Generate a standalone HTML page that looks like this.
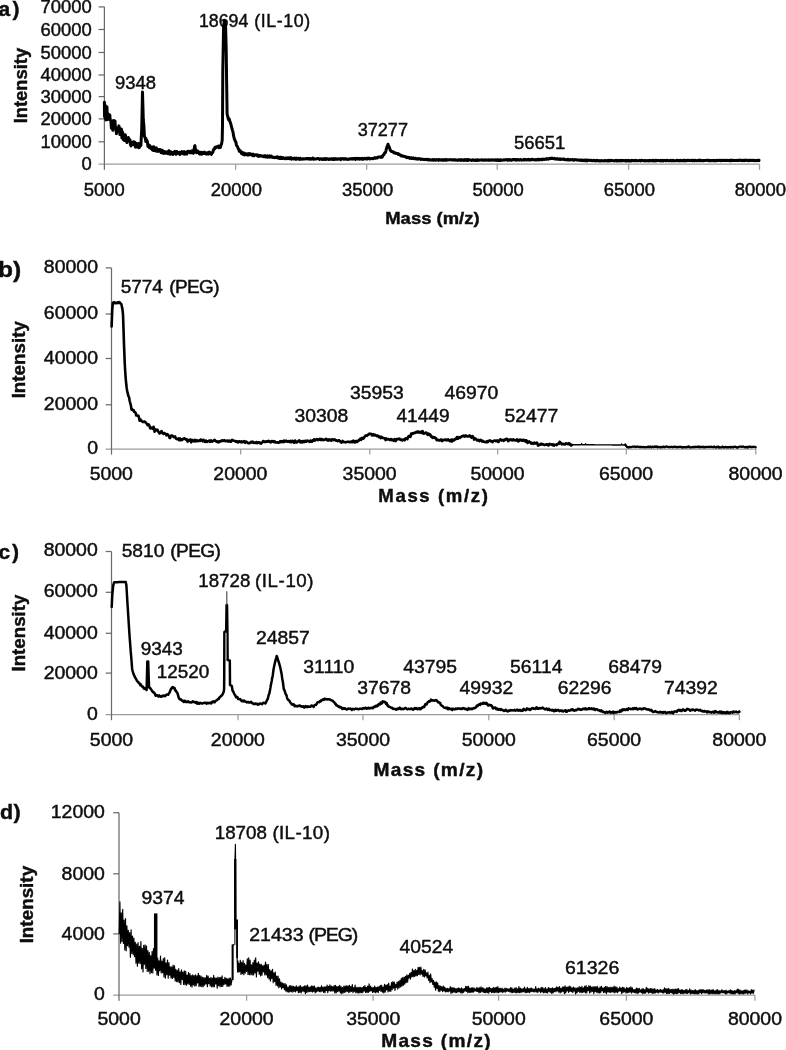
<!DOCTYPE html>
<html><head><meta charset="utf-8"><title>Mass spectra</title>
<style>html,body{margin:0;padding:0;background:#fff}body{width:786px;height:1050px;overflow:hidden}svg{display:block}</style>
</head><body>
<svg width="786" height="1050" viewBox="0 0 786 1050" font-family="'Liberation Sans', sans-serif" fill="#0a0a0a" stroke="#0a0a0a" stroke-width="0.4">
<defs><filter id="soft" x="-2%" y="-2%" width="104%" height="104%"><feGaussianBlur stdDeviation="0.5"/></filter></defs>
<g filter="url(#soft)">
<g stroke="#9c9c9c" stroke-width="1.25" fill="none">
<line x1="98.6" y1="164.2" x2="759.5" y2="164.2"/>
<line x1="235.6" y1="164.2" x2="235.6" y2="169.8"/>
<line x1="366.7" y1="164.2" x2="366.7" y2="169.8"/>
<line x1="497.2" y1="164.2" x2="497.2" y2="169.8"/>
<line x1="628.6" y1="164.2" x2="628.6" y2="169.8"/>
<line x1="759.5" y1="164.2" x2="759.5" y2="169.8"/>
</g>
<g stroke="#6a6a6a" stroke-width="1.25" fill="none">
<line x1="104.4" y1="6.9" x2="104.4" y2="169.8"/>
<line x1="98.6" y1="6.9" x2="104.4" y2="6.9"/>
<line x1="98.6" y1="29.5" x2="104.4" y2="29.5"/>
<line x1="98.6" y1="52.5" x2="104.4" y2="52.5"/>
<line x1="98.6" y1="75" x2="104.4" y2="75"/>
<line x1="98.6" y1="96.6" x2="104.4" y2="96.6"/>
<line x1="98.6" y1="118.9" x2="104.4" y2="118.9"/>
<line x1="98.6" y1="141.8" x2="104.4" y2="141.8"/>
</g>
<text transform="translate(40.4 12.9) scale(1.0365 1)" font-size="17.8">70000</text>
<text transform="translate(40.4 35.5) scale(1.0365 1)" font-size="17.8">60000</text>
<text transform="translate(40.4 58.5) scale(1.0365 1)" font-size="17.8">50000</text>
<text transform="translate(40.4 81) scale(1.0365 1)" font-size="17.8">40000</text>
<text transform="translate(40.4 102.6) scale(1.0365 1)" font-size="17.8">30000</text>
<text transform="translate(40.4 124.9) scale(1.0365 1)" font-size="17.8">20000</text>
<text transform="translate(40.4 147.8) scale(1.0365 1)" font-size="17.8">10000</text>
<text transform="translate(81.45 170.1) scale(1.0365 1)" font-size="17.8">0</text>
<text transform="translate(83.87 195.7) scale(1.0365 1)" font-size="17.8">5000</text>
<text transform="translate(210.74 195.7) scale(1.0365 1)" font-size="17.8">20000</text>
<text transform="translate(341.95 195.7) scale(1.0365 1)" font-size="17.8">35000</text>
<text transform="translate(472.43 195.7) scale(1.0365 1)" font-size="17.8">50000</text>
<text transform="translate(603.74 195.7) scale(1.0365 1)" font-size="17.8">65000</text>
<text transform="translate(734.71 195.7) scale(1.0365 1)" font-size="17.8">80000</text>
<text transform="translate(385.25 224.1) scale(1.0858 1)" font-size="17" font-weight="bold">Mass (m/z)</text>
<text transform="translate(26.7 123.34) rotate(-90) scale(1.0210 1)" font-size="18" font-weight="bold">Intensity</text>
<text transform="translate(-1.53 15.8) scale(1.0000 1)" font-size="21" font-weight="bold" letter-spacing="2.24">a)</text>
<text transform="translate(115.05 88.9) scale(1.0365 1)" font-size="17.8">9348</text>
<text transform="translate(198.97 26.7) scale(0.9988 1)" font-size="17.8">18694 <tspan dx="1.05" letter-spacing="0.6">(IL-10)</tspan></text>
<text transform="translate(357.65 135.7) scale(1.0169 1)" font-size="17.8">37277</text>
<text transform="translate(513.92 149.3) scale(1.0365 1)" font-size="17.8">56651</text>
<polyline points="104.4,102.3 104.5,116.5 104.9,104.5 105.2,118.5 105.6,106.5 106,120 106.4,117.93 106.9,106.65 107.4,118.95 107.9,119.48 108.4,115.75 108.9,114.32 109.4,114.85 109.9,115.39 110,118.23 110.4,119.7 110.9,121.19 111.4,128.18 111.9,126.14 112.4,124.53 112.9,130.3 113.4,120.62 113.9,120.75 114.4,127.5 114.9,121.01 115,121.08 115.4,127.63 115.9,127.58 116.4,133.63 116.9,130.66 117.4,129.83 117.9,130.19 118.4,127.92 118.9,125.9 119.4,128.53 119.9,134.5 120.4,129.86 120.9,132.2 121.4,129.08 121.9,137.89 122.4,131.83 122.9,133.52 123.4,139.78 123.9,136.89 124.4,140.43 124.9,139.11 125,140.1 125.4,134.83 125.9,139.08 126.4,139.21 126.9,142.56 127.4,138.86 127.9,141.14 128.4,137.43 128.9,140.35 129.4,140.31 129.9,139.51 130.4,144.62 130.5,141.66 130.9,145.94 131.4,143.5 131.9,143.8 132.4,144.22 132.9,144.66 133.4,141.69 133.9,143.66 134.4,142.75 134.9,143.91 135,142.28 135.4,147.13 135.9,143.25 136.4,145.77 136.9,143.99 137.4,147.06 137.9,146.11 138.4,143.55 138.7,147.24 138.9,147.69 139.4,147.36 139.9,145.56 140.4,143.34 140.8,143.49 140.9,145.44 141.4,135.02 141.7,129.9 141.9,120.62 142.4,96.79 142.5,92.02 142.9,105.96 143.3,119.97 143.4,121.26 143.9,125.81 144.4,136.44 144.5,135.85 144.9,137.58 145.4,138.22 145.8,141.57 145.9,138.39 146.4,140.93 146.9,140.3 147.4,141.67 147.9,146.43 148,145.21 148.4,144.59 148.9,145.54 149.4,147.6 149.9,145.78 150.4,147.38 150.9,148.3 151,146.97 151.4,147.86 151.9,149.14 152.4,149.98 152.9,146.94 153.4,150.51 153.9,146.77 154.4,150.17 154.9,150.63 155.4,148.01 155.9,149.42 156,151.12 156.4,147.87 156.9,150.55 157.4,151.35 157.9,150.31 158.4,151.3 158.9,149.38 159.4,149.39 159.9,150.18 160.4,149.57 160.9,150.36 161,152.79 161.4,151.36 161.9,150.52 162.4,150.33 162.9,153.1 163.4,151.19 163.9,153.37 164.4,151.64 164.9,151.74 165.4,153.27 165.9,152.76 166.4,152.23 166.9,151.72 167.4,153.52 167.9,151.84 168.4,153.84 168.9,150.74 169.4,152.17 169.9,152.58 170.4,154.25 170.9,151.77 171,153.82 171.4,153.35 171.9,153.51 172.4,153.21 172.9,154.45 173.4,152.18 173.9,152.44 174.4,151.77 174.9,151.26 175.4,151.85 175.9,154.3 176.4,154.05 176.9,151.57 177.4,153.27 177.9,152.86 178.4,153.27 178.9,153.5 179.4,152.33 179.9,154.53 180,152.89 180.4,153.41 180.9,153.42 181.4,151.92 181.9,151.52 182.4,152.64 182.9,153.76 183.4,153.9 183.9,153.61 184.4,151.64 184.9,154.15 185.4,153.78 185.9,153.99 186.4,152.87 186.9,154.06 187.4,151.38 187.9,151.33 188.4,151.29 188.9,151.98 189.4,151.96 189.6,151.77 189.9,152.84 190.4,151.2 190.9,152.73 191.4,151.41 191.9,152.8 192.4,150.82 192.9,151.57 193.4,153.26 193.5,152.11 193.9,150.71 194.4,147.57 194.7,145.81 194.9,145.64 195.4,149.21 195.8,149.73 195.9,151.89 196.4,152.65 196.9,152.67 197.4,150.83 197.8,151.87 197.9,151.85 198.4,151.52 198.9,153.08 199.4,153.73 199.9,152.67 200,154.14 200.4,153.97 200.9,152.24 201.4,153.89 201.9,154.19 202.4,152.42 202.9,153.39 203.4,153.56 203.9,153.48 204.4,152.17 204.9,153.61 205.4,153.54 205.9,154.02 206.4,153.97 206.9,152.76 207.4,153.76 207.9,154.13 208.4,154.19 208.9,152.35 209.4,152.01 209.9,153.58 210.4,152.49 210.9,153.36 211.4,154.31 211.9,152.9 212.3,152.59 212.4,152.88 212.9,152.31 213.4,149.87 213.8,149.71 213.9,148.89 214.4,149.15 214.9,148.52 215,147.2 215.4,147.15 215.9,147.51 216.4,146.67 216.9,146.71 217.4,146.86 217.9,147.12 218.4,146.17 218.9,147.74 219.4,147.28 219.9,146.56 220.3,145.99 220.4,147.46 220.9,145.12 221.4,144.3 221.5,144.12 221.9,142.02 222.2,140.12 222.4,129.93 222.5,124.94 222.8,70.1 222.9,64.54 223.4,36.91 223.6,25.98 223.9,23.89 224.3,20.76 224.4,20.96 224.9,21.28 225,21.57 225.4,25.25 225.6,27.1 225.9,38.55 226.2,49.96 226.4,64.87 226.6,80.01 226.9,100.08 227.1,113.91 227.4,115.05 227.9,117.08 228.3,119.05 228.4,119.54 228.9,118.59 229.4,119.49 229.6,121.16 229.9,121.44 230.4,122.65 230.8,124.08 230.9,124.39 231.4,126.35 231.9,128.37 232.3,129.27 232.4,130.24 232.9,131.46 233.4,134.88 233.9,137.07 234.4,139.19 234.6,139.48 234.9,140.14 235.4,141.55 235.9,142.08 236.4,145.09 236.9,145.79 237.4,146.45 237.9,147.75 238.4,149.09 238.9,149.37 239.2,150.87 239.4,151.24 239.9,150.67 240.4,150.68 240.9,152.42 241.4,153.37 241.9,152.21 242.3,153.72 242.4,153.97 242.9,154.32 243.4,152.95 243.9,153.07 244.4,154.96 244.9,153.47 245.4,153.61 245.9,154.39 246.4,154.17 246.9,154.76 247.4,153.74 247.9,155.1 248.4,153.84 248.9,154.87 249.4,153.62 249.9,154.44 250.4,153.73 250.9,154.32 251.4,154.4 251.9,155.2 252.4,154.82 252.9,154.21 253,155.86 253.4,155.73 253.9,155.85 254.4,154.78 254.9,155.11 255.4,154.9 255.9,154.81 256.4,154.73 256.9,155.59 257.4,155.04 257.9,155.21 258.3,156.39 258.4,155.78 258.9,155.33 259.4,156.15 259.9,155.53 260.4,155.99 260.9,155.63 261.4,156.04 261.9,156.25 262.4,156.13 262.9,155.95 263.4,156.61 263.9,156.77 264.4,155.71 264.9,155.67 265.4,155.67 265.9,157.07 266.4,157.04 266.9,155.96 267.4,157.15 267.9,155.99 268.4,156.49 268.9,156.51 269.4,157.2 269.9,155.87 270.4,156.33 270.9,156.81 271.4,156.02 271.6,156.29 271.9,156.68 272.4,157.38 272.9,157.26 273.4,157.43 273.9,157.38 274.4,157.36 274.9,157.64 275.4,157.45 275.9,157.59 276.4,156.99 276.9,156.85 277.4,157.8 277.9,156.97 278.4,158.17 278.9,157.75 279.4,157.41 279.9,158.38 280.4,157.27 280.5,157.82 280.9,157.21 281.4,158.55 281.9,157.99 282.4,158.36 282.9,157.61 283.4,158.41 283.9,158.29 284.4,158.23 284.9,158.71 285.4,157.98 285.9,157.98 286.4,158.41 286.9,158.65 287.4,157.95 287.9,158.46 288.4,157.82 288.9,158.35 289.4,158.69 289.9,157.7 290.4,158.7 290.9,157.7 291.4,159.1 291.9,158.42 292.4,158.37 292.9,158.85 293.4,158.6 293.9,158.93 294.4,158.04 294.9,158.76 295.4,158.79 295.9,159.35 296.4,158.12 296.9,158.74 297.4,159.02 297.9,158.94 298.3,158.3 298.4,159.03 298.9,158.49 299.4,158.43 299.9,159.37 300.4,158.4 300.9,158.73 301.4,159.13 301.9,159.05 302.4,158.81 302.9,159.15 303.4,158.65 303.9,158.85 304.4,159.1 304.9,158.89 305.4,158.82 305.9,158.48 306,158.68 306.4,158.47 306.9,158.95 307.4,158.47 307.9,158.59 308.4,159 308.9,158.67 309.4,158.45 309.9,159.12 310.4,158.53 310.9,159.17 311.4,159.1 311.9,158.65 312.4,159.02 312.9,158.12 313.4,158.61 313.9,159.24 314.4,158.88 314.9,158.86 315.4,159.01 315.9,159.04 316.4,158.93 316.9,158.72 317.4,158.42 317.9,158.58 318.4,158.59 318.9,158.78 319.4,159.53 319.9,158.7 320.4,158.83 320.9,158.74 321.4,159.03 321.9,159.51 322.4,159.44 322.9,158.79 323.4,158.66 323.9,159.47 324.4,158.98 324.9,159.23 325.4,158.46 325.9,159.48 326.4,158.79 326.9,159.03 327.4,158.66 327.9,158.96 328.4,159.48 328.9,159.49 329.4,159.05 329.9,159.43 330,159.05 330.4,158.94 330.9,159.15 331.4,158.72 331.9,158.86 332.4,159.34 332.9,159.41 333.4,158.53 333.9,159.36 334.4,159.46 334.9,159 335.4,158.53 335.9,159.28 336.4,158.75 336.9,159.23 337.4,158.9 337.9,159.21 338.4,158.75 338.9,159.01 339.4,159.07 339.9,159.19 340.4,158.68 340.9,159.58 341.4,158.77 341.9,158.79 342.4,158.73 342.9,158.5 343.4,158.92 343.9,159.33 344.4,159.25 344.9,158.64 345.4,158.57 345.9,158.78 346.4,159.3 346.9,158.97 347.4,159.48 347.9,159.16 348.4,159.12 348.9,159.28 349.4,159.26 349.9,158.79 350.4,158.69 350.9,158.89 351.4,158.95 351.9,158.55 352.4,158.88 352.9,159.11 353.4,158.53 353.9,158.53 354.4,158.57 354.9,158.69 355.4,159.45 355.9,158.4 356.4,158.57 356.9,158.55 357.4,158.89 357.9,158.38 358.4,158.86 358.9,158.53 359.4,158.65 359.9,159.22 360,158.55 360.4,159.01 360.9,158.76 361.4,158.75 361.9,159.16 362.4,158.42 362.9,159.23 363.4,159.17 363.9,158.91 364.4,158.22 364.9,158.86 365.4,158.77 365.9,158.93 366.4,158.31 366.9,159.07 367.4,158.98 367.9,158.14 368.4,158.33 368.9,158.01 369.4,158.83 369.9,158.89 370.4,158.95 370.9,158.53 371.4,158.56 371.9,158.55 372.4,158.42 372.9,158.79 373.4,158.41 373.9,158.04 374.4,158.13 374.9,157.54 375.4,158.17 375.9,158.05 376.4,157.68 376.9,158.03 377.4,157.84 377.9,157.33 378.4,156.98 378.9,156.94 379.4,156.9 379.9,156.94 380.4,156.99 380.9,157.38 381.4,156.64 381.9,157.17 382.3,156.88 382.4,156.91 382.9,155.75 383.4,154.65 383.9,154.71 384.4,153.47 384.9,152.66 385.4,152.59 385.9,150.81 386.4,148.69 386.9,147.08 387.2,146.72 387.4,145.65 387.9,145.01 388,144.24 388.4,145.78 388.9,146.21 389,146.82 389.4,147.32 389.9,149.02 390.4,150.51 390.7,150.51 390.9,150.78 391.4,151.49 391.9,151.58 392.4,151.55 392.9,152.09 393.4,152.17 393.9,152.79 394,152.31 394.4,152.87 394.9,152.92 395.4,153.17 395.9,153 396.4,153.48 396.9,153.62 397.4,153.5 397.9,153.42 398.4,154.53 398.9,154.56 399.4,154.35 399.9,155.08 400.4,154.93 400.9,155.36 401.4,155.96 401.9,155.85 402.4,155.96 402.7,156.13 402.9,155.97 403.4,156.21 403.9,156.38 404.4,156.41 404.9,156.43 405.4,156.91 405.9,156.8 406.4,157.39 406.9,157.67 407.4,157.21 407.9,157.59 408.4,157.65 408.9,157.38 409.4,157.55 409.9,158.34 410.4,158.03 410.9,158.37 411.4,157.77 411.9,158.29 412.4,158.58 412.9,158.63 413.4,157.91 413.9,158.42 414.4,158.34 414.9,158.74 415.4,158.18 415.9,158.4 416.4,158.93 416.9,158.68 417.4,158.72 417.9,159.22 418.4,158.7 418.8,158.49 418.9,158.81 419.4,158.65 419.9,158.63 420.4,159.1 420.9,159.49 421.4,159.2 421.9,159.31 422.4,159.07 422.9,159.33 423.4,159.53 423.9,159.43 424.4,159.67 424.9,159.49 425.4,159.22 425.9,159.61 426.4,159.57 426.9,159.33 427.4,159.77 427.9,159.99 428.4,159.44 428.9,159.84 429.4,160.05 429.9,159.81 430,159.7 430.4,159.79 430.9,159.94 431.4,160.07 431.9,159.96 432.4,159.56 432.9,160.19 433.4,160.28 433.9,159.57 434.4,159.7 434.9,159.63 435.4,160.22 435.9,160.28 436.4,159.53 436.9,159.78 437.4,159.66 437.9,159.9 438.4,160.29 438.9,159.56 439.4,159.65 439.9,159.92 440.4,159.96 440.9,160.15 441.4,159.88 441.9,159.63 442.4,159.81 442.9,160.36 443.4,160.16 443.9,159.62 444.4,160.21 444.9,159.79 445.4,160.19 445.9,159.53 446.4,160.27 446.9,159.67 447.4,159.92 447.9,160.1 448.4,159.97 448.9,159.68 449.4,159.65 449.9,159.78 450.4,159.58 450.9,159.73 451.4,159.65 451.9,159.94 452.4,159.85 452.9,160.05 453.4,159.79 453.9,159.58 454.4,159.84 454.9,160.2 455.4,159.78 455.9,159.9 456.4,160.21 456.9,159.91 457.4,160.32 457.9,160.35 458.4,159.83 458.9,160.2 459.4,159.79 459.9,159.69 460,159.95 460.4,160.09 460.9,160.37 461.4,159.7 461.9,160.18 462.4,159.99 462.9,159.7 463.4,160.41 463.9,160.18 464.4,159.7 464.9,160.36 465.4,159.68 465.9,159.67 466.4,159.87 466.9,160.39 467.4,159.62 467.9,160.37 468.4,160.12 468.9,159.66 469.4,160.08 469.9,159.99 470.4,160.08 470.9,160.23 471.4,160.18 471.9,160.45 472.4,159.74 472.9,160.29 473.4,159.96 473.9,160.27 474.4,160.36 474.9,160.45 475.4,159.84 475.9,160 476.4,160.41 476.9,160.41 477.4,159.94 477.9,160.41 478.4,159.97 478.9,159.94 479.4,160.26 479.9,160.03 480.4,160.01 480.9,159.96 481.4,160 481.9,159.76 482.4,159.69 482.9,160.27 483.4,160.11 483.9,160.2 484.4,160.31 484.9,159.84 485.4,159.84 485.9,159.88 486.4,159.9 486.9,160.28 487.4,159.96 487.9,159.92 488.4,160.18 488.9,159.81 489.4,159.75 489.9,160.24 490.4,160.29 490.9,159.91 491.4,160.19 491.9,159.7 492.4,160 492.9,160.15 493.4,159.88 493.9,159.96 494.4,160.18 494.9,160.16 495.4,159.8 495.9,160.26 496.4,159.75 496.9,160.48 497.4,159.85 497.9,159.89 498.4,159.85 498.9,160.5 499.4,159.92 499.9,160.19 500,160.5 500.4,160.46 500.9,159.71 501.4,160.1 501.9,160.15 502.4,160.23 502.9,159.92 503.4,159.91 503.9,159.64 504.4,159.66 504.9,160.07 505.4,159.67 505.9,159.77 506.4,159.87 506.9,159.65 507.4,159.61 507.9,160.33 508.4,159.92 508.9,159.73 509.4,160.13 509.9,159.55 510.4,159.74 510.9,160.31 511.4,160.25 511.9,160.03 512.4,159.59 512.9,159.76 513.4,159.52 513.9,159.67 514.4,159.5 514.9,159.58 515.4,159.98 515.9,159.54 516.4,159.58 516.9,160.17 517.4,159.71 517.9,159.7 518.4,159.49 518.9,160.05 519.4,159.95 519.9,159.84 520,159.89 520.4,159.48 520.9,159.6 521.4,159.85 521.9,160.14 522.4,160.03 522.9,159.88 523.4,159.78 523.9,159.37 524.4,160.07 524.9,159.41 525.4,159.45 525.9,159.89 526.4,159.98 526.9,159.96 527.4,159.69 527.9,159.46 528.4,159.35 528.9,159.99 529.4,160.08 529.9,159.5 530.4,159.99 530.9,159.61 531.4,159.54 531.9,159.69 532.4,159.29 532.9,159.63 533.4,159.43 533.9,159.83 534.4,159.66 534.9,159.94 535.4,159.96 535.9,159.5 536.4,159.46 536.9,159.98 537.4,159.63 537.9,159.3 538.4,159.26 538.9,160 539.4,159.67 539.9,159.25 540,159.61 540.4,159.57 540.9,159.47 541.4,159.84 541.9,159.79 542.4,159.11 542.9,159.09 543.4,159.24 543.9,159.54 544.4,159.33 544.9,159.37 545.4,159.21 545.9,158.88 546,159.35 546.4,158.68 546.9,159.15 547.4,158.7 547.9,158.86 548.4,159.19 548.9,158.79 549.4,158.36 549.9,158.59 550.4,158.71 550.9,158.19 551.4,158.28 551.9,158.04 552,158.43 552.4,158.35 552.9,158.49 553.4,158.38 553.9,158.71 554.4,158.39 554.9,159 555.4,159.09 555.9,158.78 556.4,158.81 556.9,159.17 557.4,158.78 557.9,159.22 558,158.84 558.4,159.19 558.9,158.93 559.4,159.17 559.9,159.44 560.4,158.81 560.9,159.42 561.4,159.24 561.9,159.15 562.4,159.16 562.9,158.97 563.4,159.15 563.9,159.46 564.4,159.09 564.9,159.56 565.4,159.81 565.9,159.86 566.4,159.82 566.9,159.79 567.4,159.34 567.9,159.97 568.4,159.42 568.9,159.96 569.4,159.99 569.9,159.83 570.4,159.79 570.9,159.57 571.4,159.84 571.9,159.68 572.4,159.58 572.9,159.6 573.4,160.13 573.9,160.25 574.4,159.68 574.9,159.6 575.4,159.81 575.9,159.74 576.4,159.8 576.9,160.12 577.4,160.02 577.9,160.04 578.4,159.9 578.9,160.26 579.4,160 579.9,160.11 580.4,160.18 580.9,160.53 581.4,160.06 581.9,160.43 582.4,160.15 582.9,160.61 583.4,160.25 583.9,160.36 584.4,160.66 584.9,160.52 585,160.1 585.4,160.14 585.9,160.78 586.4,160.08 586.9,160.29 587.4,160.79 587.9,160.1 588.4,160.22 588.9,160.27 589.4,160.18 589.9,160.48 590.4,160.58 590.9,160.38 591.4,160.24 591.9,160.77 592.4,160.77 592.9,160.6 593.4,160.3 593.9,160.61 594.4,160.68 594.9,160.55 595.4,160.88 595.9,160.54 596.4,160.64 596.9,160.35 597.4,160.69 597.9,160.85 598.4,160.84 598.9,160.5 599.4,161.05 599.9,160.86 600,160.64 600.4,160.64 600.9,160.9 601.4,160.46 601.9,160.8 602.4,160.86 602.9,160.71 603.4,160.97 603.9,160.67 604.4,160.67 604.9,160.53 605.4,160.99 605.9,160.55 606.4,160.83 606.9,160.62 607.4,161 607.9,161.01 608.4,160.34 608.9,161.04 609.4,160.76 609.9,160.37 610.4,160.68 610.9,160.35 611.4,160.71 611.9,160.45 612.4,160.58 612.9,160.53 613.4,160.75 613.9,160.9 614.4,160.99 614.9,160.55 615.4,160.72 615.9,160.31 616.4,160.58 616.9,161 617.4,160.39 617.9,160.93 618.4,160.77 618.9,160.51 619.4,160.86 619.9,160.51 620.4,160.94 620.9,160.36 621.4,160.38 621.9,160.83 622.4,160.62 622.9,160.4 623.4,160.66 623.9,160.51 624.4,160.69 624.9,160.82 625.4,160.9 625.9,160.33 626.4,160.71 626.9,160.99 627.4,160.62 627.9,160.84 628.4,160.36 628.9,160.91 629.4,160.7 629.9,160.92 630.4,160.84 630.9,160.9 631.4,160.32 631.9,160.79 632.4,160.42 632.9,160.47 633.4,160.51 633.9,160.7 634.4,160.72 634.9,160.93 635.4,160.29 635.9,160.41 636.4,160.53 636.9,160.85 637.4,160.66 637.9,160.63 638.4,160.81 638.9,160.73 639.4,160.47 639.9,160.33 640.4,160.59 640.9,160.88 641.4,160.69 641.9,160.3 642.4,160.57 642.9,160.53 643.4,160.67 643.9,160.67 644.4,160.93 644.9,160.5 645.4,160.55 645.9,160.69 646.4,160.88 646.9,160.75 647.4,160.58 647.9,160.82 648.4,160.59 648.9,160.92 649.4,160.45 649.9,160.34 650,160.83 650.4,160.46 650.9,160.84 651.4,160.67 651.9,160.6 652.4,160.31 652.9,160.79 653.4,160.29 653.9,160.91 654.4,160.85 654.9,160.45 655.4,160.33 655.9,160.85 656.4,160.57 656.9,160.33 657.4,160.58 657.9,160.41 658.4,160.52 658.9,160.68 659.4,160.87 659.9,160.79 660.4,160.35 660.9,160.56 661.4,160.57 661.9,160.91 662.4,160.29 662.9,160.58 663.4,160.86 663.9,160.5 664.4,160.41 664.9,160.61 665.4,160.45 665.9,160.86 666.4,160.29 666.9,160.37 667.4,160.28 667.9,160.71 668.4,160.42 668.9,160.83 669.4,160.83 669.9,160.85 670.4,160.39 670.9,160.22 671.4,160.48 671.9,160.87 672.4,160.73 672.9,160.26 673.4,160.69 673.9,160.83 674.4,160.87 674.9,160.7 675.4,160.79 675.9,160.78 676.4,160.45 676.9,160.28 677.4,160.7 677.9,160.3 678.4,160.47 678.9,160.87 679.4,160.58 679.9,160.55 680.4,160.84 680.9,160.39 681.4,160.87 681.9,160.81 682.4,160.44 682.9,160.42 683.4,160.29 683.9,160.81 684.4,160.32 684.9,160.2 685.4,160.79 685.9,160.59 686.4,160.64 686.9,160.68 687.4,160.22 687.9,160.25 688.4,160.52 688.9,160.23 689.4,160.52 689.9,160.68 690.4,160.62 690.9,160.59 691.4,160.22 691.9,160.34 692.4,160.78 692.9,160.27 693.4,160.53 693.9,160.22 694.4,160.8 694.9,160.3 695.4,160.45 695.9,160.54 696.4,160.65 696.9,160.79 697.4,160.66 697.9,160.4 698.4,160.23 698.9,160.64 699.4,160.81 699.9,160.19 700,160.68 700.4,160.29 700.9,160.47 701.4,160.51 701.9,160.57 702.4,160.81 702.9,160.62 703.4,160.42 703.9,160.63 704.4,160.47 704.9,160.44 705.4,160.4 705.9,160.49 706.4,160.35 706.9,160.32 707.4,160.26 707.9,160.45 708.4,160.35 708.9,160.7 709.4,160.71 709.9,160.38 710.4,160.56 710.9,160.74 711.4,160.39 711.9,160.51 712.4,160.44 712.9,160.57 713.4,160.77 713.9,160.25 714.4,160.77 714.9,160.58 715.4,160.66 715.9,160.56 716.4,160.71 716.9,160.36 717.4,160.6 717.9,160.32 718.4,160.47 718.9,160.58 719.4,160.28 719.9,160.19 720.4,160.65 720.9,160.66 721.4,160.57 721.9,160.35 722.4,160.56 722.9,160.2 723.4,160.56 723.9,160.51 724.4,160.53 724.9,160.42 725.4,160.28 725.9,160.6 726.4,160.43 726.9,160.61 727.4,160.37 727.9,160.19 728.4,160.48 728.9,160.53 729.4,160.71 729.9,160.69 730.4,160.17 730.9,160.62 731.4,160.3 731.9,160.57 732.4,160.37 732.9,160.33 733.4,160.44 733.9,160.46 734.4,160.56 734.9,160.53 735.4,160.55 735.9,160.37 736.4,160.55 736.9,160.34 737.4,160.5 737.9,160.41 738.4,160.47 738.9,160.14 739.4,160.43 739.9,160.26 740.4,160.36 740.9,160.17 741.4,160.53 741.9,160.67 742.4,160.34 742.9,160.18 743.4,160.5 743.9,160.2 744.4,160.66 744.9,160.19 745.4,160.34 745.9,160.42 746.4,160.19 746.9,160.31 747.4,160.28 747.9,160.55 748.4,160.71 748.9,160.33 749.4,160.59 749.9,160.2 750.4,160.46 750.9,160.37 751.4,160.28 751.9,160.61 752.4,160.56 752.9,160.19 753.4,160.28 753.9,160.6 754.4,160.71 754.9,160.47 755.4,160.63 755.9,160.7 756.4,160.55 756.9,160.49 757.4,160.23 757.9,160.32 758.4,160.48 758.9,160.66 759,160.28" fill="none" stroke="#000" stroke-width="3.0" stroke-linejoin="round" stroke-linecap="round"/>
<g stroke="#9c9c9c" stroke-width="1.25" fill="none">
<line x1="105.7" y1="449" x2="755.8" y2="449"/>
<line x1="240.7" y1="449" x2="240.7" y2="454.6"/>
<line x1="369.8" y1="449" x2="369.8" y2="454.6"/>
<line x1="497.7" y1="449" x2="497.7" y2="454.6"/>
<line x1="626.3" y1="449" x2="626.3" y2="454.6"/>
<line x1="755.8" y1="449" x2="755.8" y2="454.6"/>
</g>
<g stroke="#6a6a6a" stroke-width="1.25" fill="none">
<line x1="111.5" y1="267.9" x2="111.5" y2="454.6"/>
<line x1="105.7" y1="267.9" x2="111.5" y2="267.9"/>
<line x1="105.7" y1="314" x2="111.5" y2="314"/>
<line x1="105.7" y1="358.5" x2="111.5" y2="358.5"/>
<line x1="105.7" y1="404.8" x2="111.5" y2="404.8"/>
</g>
<text transform="translate(43.86 273.2) scale(1.1114 1)" font-size="17.5">80000</text>
<text transform="translate(43.86 319.3) scale(1.1114 1)" font-size="17.5">60000</text>
<text transform="translate(43.86 363.8) scale(1.1114 1)" font-size="17.5">40000</text>
<text transform="translate(43.86 410.1) scale(1.1114 1)" font-size="17.5">20000</text>
<text transform="translate(87.13 454.3) scale(1.1114 1)" font-size="17.5">0</text>
<text transform="translate(89.66 479.9) scale(1.1114 1)" font-size="17.5">5000</text>
<text transform="translate(213.34 479.9) scale(1.1114 1)" font-size="17.5">20000</text>
<text transform="translate(342.56 479.9) scale(1.1114 1)" font-size="17.5">35000</text>
<text transform="translate(470.44 479.9) scale(1.1114 1)" font-size="17.5">50000</text>
<text transform="translate(598.94 479.9) scale(1.1114 1)" font-size="17.5">65000</text>
<text transform="translate(728.52 479.9) scale(1.1114 1)" font-size="17.5">80000</text>
<text transform="translate(378.34 501.6) scale(1.0000 1)" font-size="18.6" font-weight="bold" letter-spacing="1.61">Mass (m/z)</text>
<text transform="translate(24.9 398.37) rotate(-90) scale(1.0107 1)" font-size="18.6" font-weight="bold">Intensity</text>
<text transform="translate(-1.89 277) scale(1.1151 1)" font-size="22" font-weight="bold">b)</text>
<text transform="translate(120.64 293.1) scale(1.0872 1)" font-size="17.5">5774 <tspan dx="0.88" letter-spacing="-0.54">(PEG)</tspan></text>
<text transform="translate(294.6 422.3) scale(1.1057 1)" font-size="17.5">30308</text>
<text transform="translate(349.9 399.4) scale(1.1057 1)" font-size="17.5">35953</text>
<text transform="translate(396.47 422.3) scale(1.0914 1)" font-size="17.5">41449</text>
<text transform="translate(444.45 399.4) scale(1.1057 1)" font-size="17.5">46970</text>
<text transform="translate(504.45 422.3) scale(1.1057 1)" font-size="17.5">52477</text>
<polyline points="111.6,326.45 112.1,313.16 112.2,310.39 112.6,305.86 112.9,302.8 113.1,303.09 113.6,303.21 113.8,302.6 114.1,302.23 114.6,302.77 115.1,303.21 115.6,302.88 116.1,302.89 116.6,303.24 117.1,302.56 117.6,302.31 118.1,302.93 118.6,302.86 119.1,302.13 119.6,302.21 120.1,303.03 120.6,303.56 121.1,303.78 121.6,305.12 122.1,307.92 122.4,308.95 122.6,310.95 123,314.25 123.1,316.88 123.6,331.88 123.7,335.4 124.1,347.1 124.5,356.77 124.6,360.3 125.1,369.76 125.6,376.82 126,382.01 126.1,382.48 126.6,387.19 127.1,390.55 127.6,392.94 128.1,394.69 128.3,395.92 128.6,396.42 129.1,397.34 129.6,400.43 130.1,402.61 130.6,404.25 131.1,406.53 131.3,408.43 131.6,409.67 132.1,409.29 132.6,409.98 133.1,410.3 133.6,410.17 134.1,411.86 134.6,412.09 135.1,412.16 135.6,412.85 135.9,413.52 136.1,415.42 136.6,415.52 137.1,415.31 137.6,415.82 138.1,415.62 138.6,416.02 139.1,418.08 139.6,420.7 140.1,420.74 140.5,419.47 140.6,419.67 141.1,420.26 141.6,420.69 142.1,421.41 142.6,421.49 143.1,422.04 143.6,421.93 144.1,421.73 144.6,421.46 145.1,421.81 145.6,422.36 146.1,422.9 146.6,423.53 147.1,424.05 147.6,425.22 148.1,424.73 148.6,424.39 149.1,425.03 149.6,426.29 150.1,428.08 150.6,428.43 151.1,427.56 151.6,428.2 152.1,427.84 152.6,428.15 153.1,428.93 153.6,426.8 154.1,428.97 154.6,431.73 155.1,429.94 155.6,429.43 156.1,430.19 156.6,430.45 157.1,430.02 157.6,429.87 158.1,431.27 158.6,432.07 158.8,432.6 159.1,432.63 159.6,433.47 160.1,433.2 160.6,432.21 161.1,431.71 161.6,431.04 162.1,433.06 162.6,433.42 163.1,433.15 163.6,433.84 164.1,433.13 164.6,433.15 165.1,433.64 165.6,433.74 166.1,434.64 166.6,435.47 167.1,434.9 167.6,434.21 168.1,434.88 168.6,435.52 169.1,436.12 169.6,437.87 170.1,437.95 170.6,436.61 171,436.18 171.1,435.74 171.6,435.45 172.1,435.49 172.6,435.9 173.1,436.34 173.6,437.11 174.1,437.24 174.6,436.83 175.1,436.49 175.6,437.65 176.1,438.75 176.6,438.95 177.1,439.24 177.6,439.19 178.1,438.72 178.6,438.4 179.1,440.19 179.6,439.22 180.1,438.47 180.6,440.21 181.1,439.87 181.6,439.43 182.1,440 182.6,439.27 183.1,438.87 183.6,438.83 184.1,438.29 184.6,438.52 185.1,438.92 185.6,439.45 186.1,439.88 186.6,439.06 187.1,440.03 187.6,441.6 188.1,440.96 188.6,440.17 189.1,439.79 189.6,440.4 190,440.76 190.1,439.47 190.6,439.69 191.1,442.38 191.6,440.9 192.1,439.81 192.6,441.13 193.1,440.51 193.6,441.12 194.1,440.52 194.6,439.85 195.1,441.41 195.6,441.23 196.1,440.16 196.6,440.37 197.1,440.38 197.6,441.24 198.1,440.99 198.6,440.63 199.1,440.45 199.6,440.36 200.1,440.97 200.6,439.58 201.1,439.65 201.6,440.33 202.1,440.17 202.6,441.33 203.1,441.06 203.6,439.96 204.1,441.1 204.6,441.64 205.1,441.71 205.4,441.81 205.6,440.76 206.1,440.59 206.6,441.52 207.1,441.96 207.6,441.43 208.1,441.04 208.6,441 209.1,440.73 209.6,441.62 210.1,441.88 210.6,440.55 211.1,440.34 211.6,441.16 212.1,441.65 212.6,441.28 213.1,440.71 213.6,440.78 214.1,440.35 214.6,439.77 215.1,440.86 215.6,441.22 216.1,441.04 216.6,441.78 217.1,441.91 217.6,441.39 218.1,442.04 218.6,442.32 219.1,441.24 219.6,441.28 220.1,441.61 220.6,440.92 221.1,440.78 221.6,441.09 222.1,440.2 222.6,440.2 223.1,440.94 223.6,440.83 224.1,440.24 224.6,440.28 225.1,440.98 225.6,441.19 226.1,440.71 226.6,440.95 227.1,440.92 227.6,440.55 228.1,441.65 228.6,441.45 229.1,440.66 229.6,441.44 230.1,441.49 230.6,440.9 230.9,441.17 231.1,441.77 231.6,440.74 232.1,439.95 232.6,440.5 233.1,440.41 233.6,440.51 234.1,440.64 234.6,441.18 235.1,441.18 235.6,441.13 236.1,441.72 236.6,441.38 237.1,441.29 237.6,442.35 238.1,442.46 238.6,441.5 239.1,441.36 239.6,441.27 240.1,441.44 240.6,442.24 241.1,441.8 241.6,441.36 242.1,442.23 242.6,442.13 243.1,441.76 243.6,441.56 244.1,441.15 244.6,441.4 245,442.7 245.1,442.76 245.6,441.65 246.1,441.63 246.6,441.83 247.1,442.39 247.6,442.59 248.1,443.23 248.6,443.28 249.1,443.07 249.6,443.14 250.1,442.83 250.6,442.14 251.1,441.87 251.6,442.5 252.1,442.5 252.6,441.66 253.1,442.18 253.6,442.97 254.1,442.46 254.6,442.56 255.1,442.69 255.6,443.01 256.1,442.62 256.3,442.07 256.6,442.7 257.1,443.12 257.6,442.79 258.1,442.44 258.6,442.21 259.1,442.38 259.6,443.19 260.1,442.73 260.6,442.83 261.1,443.59 261.6,442.71 262.1,442.64 262.6,442.17 263.1,441.06 263.6,441.09 264.1,441.61 264.6,441.98 265.1,441.89 265.6,442.03 266.1,441.3 266.6,441.42 267.1,441.68 267.6,441.15 268,441.54 268.1,441.33 268.6,440.91 269.1,440.96 269.6,441.53 270.1,442.19 270.6,442.42 271.1,441.74 271.6,441.15 272.1,441.17 272.6,441.69 273.1,441.2 273.6,441.52 274.1,442.17 274.6,441.3 275.1,441.63 275.6,442.39 276.1,442.38 276.6,442.38 277.1,442.28 277.6,442.34 278.1,442.8 278.6,442.22 279.1,442.29 279.6,442.39 280,441.81 280.1,441.34 280.6,441.18 281.1,441.9 281.6,441.46 282.1,441.4 282.6,442.1 283.1,441.93 283.6,440.85 284.1,440.68 284.6,441.89 285.1,441.6 285.6,441.36 286.1,440.67 286.6,440.91 287.1,441.63 287.6,441.71 288.1,441.21 288.6,441.13 289.1,441.8 289.6,441.85 290.1,441.55 290.6,440.94 291.1,442.28 291.6,442.18 292.1,440.93 292.6,441.16 293.1,441.02 293.6,441.64 294.1,442.8 294.6,441.99 295.1,440.52 295.6,441.31 296.1,442.51 296.6,442.35 297.1,442.37 297.6,441.65 298.1,441.08 298.6,440.86 299.1,440.32 299.6,441.32 300,441.63 300.1,442.18 300.6,442.47 301.1,441.21 301.6,441.5 302.1,442.52 302.6,442.36 303.1,441.06 303.6,440.99 304.1,442.07 304.6,441.68 305.1,440.75 305.6,441.37 306.1,441.74 306.6,440.82 307.1,440.58 307.6,440.7 308.1,440.97 308.6,441.31 309.1,441.66 309.6,441.89 310.1,440.72 310.6,440.57 311.1,441.59 311.6,441.59 312,441.63 312.1,441.19 312.6,440.27 313.1,440.83 313.6,440.7 314.1,439.32 314.6,440.13 315.1,440.66 315.6,440.02 316.1,439.66 316.6,439.15 317.1,439.18 317.6,439.52 318.1,440.09 318.6,439.19 319.1,439.28 319.6,439.68 320,438.85 320.1,439.63 320.6,440 321.1,439.01 321.6,439.77 322.1,440.01 322.6,439.28 323.1,439.68 323.6,440.12 324.1,439.8 324.6,439.57 325.1,439.4 325.6,439.4 326,439.35 326.1,438.73 326.6,439.92 327.1,440.26 327.6,439.56 328.1,440.44 328.6,440.6 329.1,439.36 329.6,439.58 330.1,439.48 330.6,439.7 331.1,440.77 331.6,440.11 332.1,439.39 332.6,439.76 333,440.08 333.1,439.61 333.6,439.95 334.1,439.61 334.6,439.29 335.1,440.09 335.6,440.27 336.1,440.68 336.6,440.38 337.1,440.61 337.6,441.16 338.1,440.74 338.6,440.34 339.1,440.23 339.6,441.07 340,441.24 340.1,441.12 340.6,441.98 341.1,442.39 341.6,442.6 342.1,442.04 342.6,440.91 343.1,441.47 343.6,442.06 344.1,442.11 344.6,441.98 345.1,442.01 345.6,442.37 346.1,442.16 346.6,442.02 347.1,441.88 347.6,441.77 348.1,441.69 348.6,442.02 349.1,441.7 349.6,442.02 350.1,442.19 350.6,441.87 351.1,441.88 351.6,441.36 352.1,442.26 352.6,442.23 353.1,440.83 353.6,440.66 354.1,441.06 354.6,442.28 355.1,442.5 355.3,441.98 355.6,441.37 356.1,440.96 356.6,441.5 357.1,441.95 357.6,441.2 358.1,440.53 358.6,440.78 359.1,439.93 359.6,439.62 360.1,439.78 360.4,438.7 360.6,438.93 361.1,439.8 361.6,439.01 362.1,437.87 362.6,438.34 363,438.74 363.1,438.45 363.6,438.48 364.1,437.37 364.6,436.66 365.1,436.32 365.4,435.67 365.6,435.66 366.1,435.49 366.6,435.81 367.1,435.67 367.6,434.94 368.1,434.58 368.6,434.6 369.1,434.14 369.3,433.71 369.6,434.04 370.1,433.97 370.6,433.91 371.1,433.85 371.6,434.71 372.1,435.49 372.6,434.79 373.1,434.17 373.6,435.08 374.1,435.41 374.6,434.61 375.1,434.78 375.6,435.11 376.1,435.75 376.6,435.79 376.9,436.18 377.1,435.92 377.6,435.59 378.1,435.8 378.6,436.54 379.1,437.09 379.6,436.56 380.1,437.35 380.6,438.17 380.7,437.36 381.1,436.84 381.6,436.91 382.1,437.32 382.6,438.06 383.1,438.05 383.6,438 384.1,438.18 384.6,438.35 385.1,438.93 385.6,440.09 385.8,439.12 386.1,438.46 386.6,439.15 387.1,439.46 387.6,439.28 388.1,439.06 388.6,439.07 389.1,439.48 389.6,440.01 390.1,439.7 390.6,439.86 390.9,439.85 391.1,439.04 391.6,439.39 392.1,440.18 392.6,439.86 393.1,440.15 393.6,440.73 394.1,439.85 394.6,439.01 395.1,440.13 395.6,441.06 396.1,440.09 396.6,438.99 397.1,439.03 397.6,439.32 398.1,438.92 398.6,439.14 399.1,439.27 399.6,438.74 400.1,439.68 400.6,439.9 401.1,439.48 401.6,440.04 402.1,440.41 402.6,440 403.1,439.68 403.6,439.47 404.1,439.93 404.6,440.29 405.1,438.82 405.6,438.28 406.1,438.79 406.6,438.73 407.1,438.94 407.4,439.16 407.6,438 408.1,436.98 408.6,436.27 409.1,436.02 409.6,436.23 410.1,436.88 410.6,436.46 411.1,434.03 411.2,433.63 411.6,434.36 412.1,433.85 412.6,433.18 413.1,433.3 413.6,433.56 414.1,433.39 414.6,432.61 415.1,432.76 415.6,432.84 416.1,432.23 416.6,431.81 417.1,431.63 417.6,432.43 418.1,432.01 418.6,431.64 419.1,432.57 419.6,432.37 420.1,432.11 420.6,431.73 421.1,432.12 421.4,433.02 421.6,432.61 422.1,431.52 422.6,431.09 423.1,432.37 423.6,433.66 424.1,433.49 424.6,433.41 425.1,433.14 425.6,432.65 426.1,433.03 426.5,433.38 426.6,432.8 427.1,433.34 427.6,434.87 428.1,434.31 428.6,433.5 429.1,434.46 429.6,435.08 430.1,434.25 430.6,435.19 431.1,436.59 431.6,436.36 432.1,437.45 432.6,437.97 433.1,437 433.6,437.24 434.1,437.38 434.6,437.26 435.1,438.13 435.6,438.47 436.1,438.37 436.6,439.57 436.7,440.17 437.1,439.9 437.6,439.88 438.1,439.86 438.6,440.37 439.1,440.27 439.6,440.56 440.1,440.28 440.6,439.51 441.1,439.44 441.6,439.52 441.8,440.37 442.1,441.14 442.6,440.63 443.1,440.02 443.6,440.15 444.1,439.83 444.6,439.48 445.1,439.82 445.6,439.59 446.1,439.61 446.6,440.36 447.1,440.03 447.6,439.59 448.1,439.28 448.6,440.51 449.1,440.52 449.6,440.39 450.1,441.22 450.6,440.4 451.1,439.65 451.6,440.25 452,441.48 452.1,440.6 452.6,439.54 453.1,440.18 453.6,440.25 454.1,440.45 454.6,439.87 455.1,439.05 455.6,438.56 456.1,439.02 456.6,439.04 457,437.05 457.1,437.26 457.6,437.91 458.1,438.55 458.6,438.23 459.1,437.18 459.6,437.35 460.1,437.79 460.6,437.28 460.9,436.91 461.1,437.12 461.6,436.47 462.1,436.19 462.6,436.23 463.1,435.72 463.6,436.13 464.1,435.84 464.6,435.73 464.7,436.7 465.1,436.18 465.6,435.47 466.1,435.43 466.6,435.98 467.1,436.41 467.6,436.35 468.1,436.48 468.6,436.14 469.1,435.84 469.6,435.43 469.8,435.66 470.1,436.53 470.6,436.27 471.1,436.93 471.6,437.64 472.1,436.19 472.6,436.15 473.1,436.96 473.6,437.64 474.1,439.57 474.6,439.16 475.1,438.4 475.6,438.78 476.1,439.16 476.6,439.8 477.1,440.46 477.4,439.93 477.6,440.1 478.1,440.25 478.6,439.83 479.1,440.84 479.6,441.15 480.1,440.39 480.6,439.92 481.1,440.25 481.6,440.65 482.1,441.46 482.5,441.04 482.6,440.76 483.1,441.59 483.6,441.65 484.1,441.62 484.6,442.05 485.1,442.09 485.6,441.83 486.1,441.89 486.6,442.32 487.1,441.3 487.6,441.11 488.1,441.83 488.6,441.19 489.1,440.92 489.6,440.27 490.1,440.55 490.6,441.02 491.1,441.37 491.6,441.01 492.1,441.38 492.6,442.09 493.1,441.35 493.6,440.91 494.1,440.66 494.6,440.45 495.1,440.53 495.6,440.99 496.1,441.12 496.6,440.49 497.1,440.42 497.6,440.62 497.8,440.79 498.1,441.91 498.6,442.03 499.1,441.03 499.6,439.99 500.1,439.45 500.6,439.34 501.1,440.17 501.6,440.48 502.1,440.12 502.6,440.1 503.1,440.04 503.6,440.82 504.1,440.41 504.6,439.59 505.1,439.46 505.4,439.93 505.6,439.84 506.1,438.98 506.6,438.83 507.1,438.71 507.6,439.5 508.1,441.19 508.6,440.57 509.1,439.88 509.6,440.41 510.1,439.54 510.6,439.32 511.1,439.68 511.6,439.51 512.1,440.43 512.6,439.91 513.1,439.25 513.6,440.2 514.1,439.79 514.6,439.72 515.1,440.34 515.6,440.34 516.1,440.14 516.6,440.37 517.1,439.33 517.6,439.67 518.1,441.49 518.6,441.36 519.1,440.9 519.6,439.97 520.1,439.56 520.6,439.89 521.1,439.77 521.6,440.61 522.1,440.59 522.6,440.21 523.1,439.81 523.6,439.88 524.1,440.81 524.6,440.65 525.1,440.39 525.6,441.56 525.8,441.39 526.1,440.21 526.6,440.5 527.1,441.57 527.6,442.93 528.1,442.68 528.6,441.6 529.1,441.4 529.6,442.27 530.1,442.18 530.6,442.47 531.1,443.57 531.6,443.1 532.1,442.9 532.6,443.3 533.1,443.81 533.4,443.11 533.6,443.01 534.1,443.42 534.6,442.72 535.1,443.06 535.6,443.42 536.1,443.09 536.6,442.63 537.1,442.78 537.6,444.2 538.1,445.56 538.6,445.35 539.1,445.15 539.6,444.78 540,444.35 540.1,444.69 540.6,444.26 541.1,443.73 541.6,444.23 542.1,444.52 542.6,444.03 543.1,444.33 543.6,444.67 544.1,444.95 544.6,445.06 545.1,444.5 545.6,444.56 546.1,444.62 546.6,444.28 547.1,444.19 547.6,444.79 548.1,445.24 548.6,445.47 549.1,444.48 549.6,443.77 550.1,444.32 550.6,444.56 551.1,444.55 551.6,444.26 552.1,444.79 552.6,445.08 553.1,444.26 553.6,444.75 554.1,445.67 554.6,444.87 555.1,444.8 555.6,444.73 556.1,444.86 556.6,445.08 557,444.27 557.1,444.15 557.6,443.89 558.1,443.85 558.6,443.98 559,443.69 559.1,443.39 559.6,441.85 560.1,442.16 560.6,442.94 561.1,443.04 561.6,444.36 562,444.4 562.1,443.79 562.6,443.8 563.1,444.11 563.6,444.15 564,444.12 564.1,443.9 564.6,444.35 565.1,444.44 565.6,444.04 566,443.7 566.1,443.34 566.6,443.44 567.1,443.67 567.6,444.16 568.1,444.13 568.6,443.56 569,443.18 569.1,444.2 569.6,444.57 570.1,443.89 570.6,444.78 571.1,445.51 571.6,445.27 572,444.76" fill="none" stroke="#000" stroke-width="2.6" stroke-linejoin="round" stroke-linecap="round"/>
<polyline points="572,444.7 572.1,444.7 572.6,444.7 573.1,444.71 573.6,444.71 574.1,444.71 574.6,444.71 575.1,444.72 575.6,444.72 576.1,444.72 576.6,444.73 577.1,444.73 577.6,444.73 578.1,444.73 578.6,444.74 579.1,444.74 579.6,444.74 580.1,444.75 580.6,444.75 581.1,444.75 581.6,443.75 582.1,444.76 582.6,444.76 583.1,444.76 583.6,444.77 584.1,444.77 584.6,444.77 585.1,444.77 585.6,443.78 586.1,444.78 586.6,444.78 587.1,444.78 587.6,444.79 588.1,444.79 588.6,444.79 589.1,444.8 589.6,444.8 590.1,444.8 590.6,444.8 591.1,444.81 591.6,444.81 592.1,444.81 592.6,444.82 593.1,444.82 593.6,444.82 594.1,444.82 594.6,444.83 595.1,444.83 595.6,444.83 596.1,444.84 596.6,444.84 597.1,444.84 597.6,444.84 598.1,444.85 598.6,444.85 599.1,444.85 599.6,444.86 600,444.86 600.1,444.86 600.6,444.86 601.1,444.86 601.6,444.87 602.1,444.87 602.6,444.87 603.1,444.88 603.6,444.88 604.1,444.88 604.6,444.88 605.1,444.89 605.6,444.89 606.1,444.89 606.6,444.89 607.1,444.9 607.6,444.9 608.1,444.9 608.6,444.91 609.1,444.91 609.6,444.91 610.1,444.91 610.6,444.92 611.1,444.92 611.6,444.92 612.1,444.93 612.6,444.93 613.1,444.93 613.6,444.93 614.1,444.94 614.6,444.94 615.1,444.94 615.6,444.95 616.1,444.95 616.6,444.95 617.1,444.95 617.6,444.96 618.1,444.96 618.6,444.96 619.1,444.97 619.6,444.97 620.1,444.97 620.6,444.97 621.1,444.98 621.6,443.98 622.1,444.98 622.6,444.98 623.1,444.99 623.6,444.99 624.1,444.99 624.6,445 625.1,445 625.3,445" fill="none" stroke="#000" stroke-width="1.4" stroke-linejoin="round" stroke-linecap="round"/>
<polyline points="625.3,444.52 625.6,445.03 626.1,446.03 626.6,446.35 626.8,446.73 627.1,447.18 627.6,447.07 628.1,447.21 628.6,447.53 629.1,447.02 629.6,446.87 630.1,447.17 630.6,447.06 631.1,447.15 631.6,446.94 632.1,446.68 632.6,446.66 633.1,446.63 633.6,446.76 634.1,446.64 634.6,446.47 635.1,446.83 635.6,447 636.1,446.97 636.6,446.65 637.1,446.44 637.6,446.68 638.1,446.82 638.6,446.82 639.1,446.98 639.6,447.07 640.1,446.91 640.6,446.92 641.1,447.05 641.6,446.96 642.1,447.04 642.6,447.2 643.1,447.03 643.6,446.96 644.1,447.02 644.6,447.2 645.1,447.27 645.6,447.16 646.1,447.15 646.6,447.1 647.1,447.17 647.6,447.15 648.1,446.56 648.6,446.8 649.1,447.19 649.6,446.74 650.1,446.69 650.6,446.74 651.1,447.15 651.6,447.39 652.1,446.75 652.6,446.75 653.1,446.96 653.6,447.2 654.1,447.09 654.6,446.35 655.1,446.55 655.6,446.89 656.1,446.8 656.6,446.49 657.1,446.64 657.6,447.31 658.1,446.9 658.6,446.81 659.1,447.05 659.6,447.26 660.1,447.44 660.6,446.99 661.1,447.11 661.6,447.24 662.1,446.94 662.6,446.97 663.1,446.98 663.6,446.54 664.1,446.99 664.6,447.25 665.1,446.78 665.6,446.91 666.1,446.74 666.6,446.44 667.1,446.63 667.6,446.78 668.1,446.88 668.6,447.17 669.1,447.07 669.6,446.96 670.1,447.15 670.6,446.87 671.1,446.81 671.6,446.83 672.1,446.98 672.6,447.23 673.1,447.05 673.6,446.73 674.1,446.75 674.6,446.85 675.1,446.96 675.6,447.07 676.1,446.8 676.6,446.99 677.1,447.26 677.6,446.99 678.1,447.07 678.6,447.12 679.1,446.86 679.6,446.94 680.1,446.86 680.6,446.76 681.1,446.87 681.6,447.22 682.1,447.51 682.6,447.2 683.1,447.22 683.6,447.25 684.1,447.04 684.6,447.2 685.1,447.19 685.6,447.46 686.1,447.45 686.6,446.81 687.1,447 687.6,447.14 688.1,446.86 688.6,446.4 689.1,446.63 689.6,447.31 690.1,447.27 690.6,447.3 691.1,447.46 691.6,447.28 692.1,447.15 692.6,447.02 693.1,446.8 693.6,447.12 694.1,447.25 694.6,446.83 695.1,446.82 695.6,447.03 696.1,446.82 696.6,446.93 697.1,447 697.6,446.65 698.1,446.52 698.6,447.11 699.1,447.04 699.6,446.77 700,447.15 700.1,447.22 700.6,446.9 701.1,446.73 701.6,446.97 702.1,447.17 702.6,447.03 703.1,446.68 703.6,446.97 704.1,447.37 704.6,447.26 705.1,446.96 705.6,446.96 706.1,447.09 706.6,447.17 707.1,446.93 707.6,446.8 708.1,446.99 708.6,446.78 709.1,446.84 709.6,447.04 710.1,446.93 710.6,447 711.1,446.82 711.6,446.74 712.1,447.07 712.6,447.13 713.1,447.24 713.6,446.98 714.1,446.52 714.6,446.78 715.1,447.12 715.6,447.46 716.1,447.48 716.6,446.95 717.1,446.99 717.6,446.99 718.1,446.59 718.6,447.2 719.1,447.52 719.6,447.18 720.1,447.23 720.6,447.42 721.1,447.37 721.6,447.27 722.1,447.03 722.6,446.57 723.1,447.01 723.6,447.51 724.1,447.35 724.6,447.13 725.1,447.07 725.6,446.91 726.1,447.15 726.6,447.39 727.1,447.21 727.6,447.16 728.1,447.25 728.6,447.27 729.1,447.22 729.6,446.93 730.1,446.88 730.6,447.48 731.1,447.29 731.6,446.89 732.1,447.13 732.6,447.33 733.1,447.28 733.6,446.82 734.1,446.8 734.6,446.88 735.1,446.64 735.6,446.95 736.1,447.04 736.6,447.09 737.1,447.7 737.6,447.69 738.1,447.27 738.6,446.97 739.1,446.73 739.6,446.7 740.1,446.72 740.6,446.71 741.1,446.69 741.6,446.85 742.1,446.79 742.6,446.57 743.1,446.51 743.6,446.84 744.1,447.09 744.6,447.19 745.1,447.37 745.6,447.12 746.1,447.06 746.6,446.86 747.1,447.15 747.6,447.61 748.1,447.17 748.6,446.76 749.1,446.86 749.6,446.74 750.1,446.53 750.6,446.99 751.1,447.15 751.6,446.93 752.1,447.08 752.6,446.98 753.1,446.87 753.6,446.96 754.1,446.76 754.6,446.93 755.1,446.91 755.6,447.16 755.7,447.23" fill="none" stroke="#000" stroke-width="2.3" stroke-linejoin="round" stroke-linecap="round"/>
<g stroke="#9c9c9c" stroke-width="1.25" fill="none">
<line x1="105.7" y1="714.6" x2="739.4" y2="714.6"/>
<line x1="238" y1="714.6" x2="238" y2="720.2"/>
<line x1="363" y1="714.6" x2="363" y2="720.2"/>
<line x1="488.8" y1="714.6" x2="488.8" y2="720.2"/>
<line x1="614.2" y1="714.6" x2="614.2" y2="720.2"/>
<line x1="739.4" y1="714.6" x2="739.4" y2="720.2"/>
</g>
<g stroke="#6a6a6a" stroke-width="1.25" fill="none">
<line x1="111.5" y1="551.5" x2="111.5" y2="720.2"/>
<line x1="105.7" y1="551.5" x2="111.5" y2="551.5"/>
<line x1="105.7" y1="592.3" x2="111.5" y2="592.3"/>
<line x1="105.7" y1="633.3" x2="111.5" y2="633.3"/>
<line x1="105.7" y1="673.1" x2="111.5" y2="673.1"/>
</g>
<text transform="translate(43.66 556.3) scale(1.1114 1)" font-size="17.5">80000</text>
<text transform="translate(43.66 597.1) scale(1.1114 1)" font-size="17.5">60000</text>
<text transform="translate(43.66 638.7) scale(1.1114 1)" font-size="17.5">40000</text>
<text transform="translate(43.66 678.5) scale(1.1114 1)" font-size="17.5">20000</text>
<text transform="translate(86.93 720) scale(1.1114 1)" font-size="17.5">0</text>
<text transform="translate(89.86 746.2) scale(1.1114 1)" font-size="17.5">5000</text>
<text transform="translate(210.84 746.2) scale(1.1114 1)" font-size="17.5">20000</text>
<text transform="translate(335.96 746.2) scale(1.1114 1)" font-size="17.5">35000</text>
<text transform="translate(461.74 746.2) scale(1.1114 1)" font-size="17.5">50000</text>
<text transform="translate(587.04 746.2) scale(1.1114 1)" font-size="17.5">65000</text>
<text transform="translate(712.32 746.2) scale(1.1114 1)" font-size="17.5">80000</text>
<text transform="translate(373.41 776.4) scale(1.0300 1)" font-size="18.6" font-weight="bold" letter-spacing="1.27">Mass (m/z)</text>
<text transform="translate(24.9 671.57) rotate(-90) scale(1.0080 1)" font-size="18.6" font-weight="bold">Intensity</text>
<text transform="translate(-1.54 559.4) scale(1.0000 1)" font-size="21" font-weight="bold" letter-spacing="1.95">c)</text>
<text transform="translate(121.63 556.5) scale(1.0976 1)" font-size="17.5">5810 <tspan dx="0.64" letter-spacing="-0.65">(PEG)</tspan></text>
<text transform="translate(140.64 655.4) scale(1.0857 1)" font-size="17.5">9343</text>
<text transform="translate(156.67 678.3) scale(1.0800 1)" font-size="17.5">12520</text>
<text transform="translate(198.3 586.6) scale(1.0688 1)" font-size="17.5">18728 <tspan dx="-0.45" letter-spacing="0.54">(IL-10)</tspan></text>
<text transform="translate(256.05 644.2) scale(1.1057 1)" font-size="17.5">24857</text>
<text transform="translate(303.33 672.5) scale(1.1057 1)" font-size="17.5">31110</text>
<text transform="translate(357.35 694.4) scale(1.1057 1)" font-size="17.5">37678</text>
<text transform="translate(403.22 672.5) scale(1.1057 1)" font-size="17.5">43795</text>
<text transform="translate(459.57 694.4) scale(1.1057 1)" font-size="17.5">49932</text>
<text transform="translate(510.06 672.5) scale(1.1057 1)" font-size="17.5">56114</text>
<text transform="translate(557.83 694.4) scale(1.1057 1)" font-size="17.5">62296</text>
<text transform="translate(608.21 672.5) scale(1.1057 1)" font-size="17.5">68479</text>
<text transform="translate(664.08 694.4) scale(1.1057 1)" font-size="17.5">74392</text>
<polyline points="111.7,607 112.2,597 112.3,595 112.7,591 113.2,586 113.3,585 113.7,583.76 114.2,582.2 114.7,582.19 115.2,582.18 115.7,582.17 116.2,582.17 116.7,582.16 117.2,582.15 117.7,582.14 118.2,582.13 118.7,582.12 119.2,582.11 119.7,582.11 120.2,582.1 120.7,582.09 121.2,582.08 121.7,582.07 122.2,582.06 122.7,582.05 123.2,582.04 123.7,582.04 124.2,582.03 124.7,582.02 125.2,582.01 125.7,582 125.8,582 126.2,584.63 126.4,585.09 126.7,590.47 127.2,599.13 127.6,605.3 127.7,606.81 128.2,614.81 128.7,622.74 129.2,630.68 129.7,637.84 130.2,644.53 130.6,649.61 130.7,651.19 131.2,656.86 131.7,663.27 132.1,668.62 132.2,669.21 132.7,671.33 133.2,672.89 133.7,674.25 134.2,675.59 134.7,676.5 135.2,677.7 135.7,678.29 136.2,679.17 136.7,680.26 136.8,680.54 137.2,681.2 137.7,681.62 138.2,681.9 138.7,682.94 139.2,683.28 139.7,683.49 140.2,685.17 140.3,684.63 140.7,684.22 141.2,685.67 141.7,685.74 142.2,686.72 142.7,686.79 143.2,686.79 143.7,688.48 144.2,688.69 144.6,688.42 144.7,688.33 145.2,688.57 145.7,689.16 146.2,689.54 146.6,690 146.7,686.25 147,675 147.2,666 147.3,661.5 147.7,661.5 148.2,661.5 148.6,675 148.7,677.5 149.1,687.5 149.2,687.58 149.7,687.52 150.2,688.2 150.6,688.5 150.7,688.91 151.2,689.58 151.7,690.25 152.2,691.13 152.7,691.76 153.2,692.16 153.7,692.28 154.2,692.64 154.7,693.54 155.2,694.76 155.4,695.47 155.7,695.71 156.2,695.33 156.7,695.06 157.2,695.31 157.7,695.58 158.2,696.13 158.5,696.57 158.7,695.87 159.2,695.44 159.7,696.23 160.2,696.64 160.7,696.22 161.2,696.59 161.7,696.64 161.8,696.19 162.2,696.11 162.7,695.52 163.2,695.88 163.7,696.05 164.2,695.53 164.7,695.62 165,695.99 165.2,696.12 165.7,695.65 166.2,694.91 166.7,694.64 167.2,694.47 167.7,694.36 168.2,694.71 168.7,693.59 169.2,693.1 169.7,692.26 170.2,690.78 170.7,689.63 171.2,688.65 171.7,688.18 172,688.16 172.2,687.34 172.7,687.1 173.2,687.45 173.3,687.37 173.7,687.91 174.2,687.91 174.7,688.09 174.8,689.21 175.2,690.41 175.7,690.32 176.2,691.28 176.4,692 176.7,692.03 177.2,692.62 177.7,693.91 178.2,695.94 178.7,697.64 179,698.21 179.2,698.51 179.7,699.28 180.2,699.02 180.7,699.24 181,699.94 181.2,699.74 181.7,700.08 182.2,700.69 182.7,701.03 183.2,700.85 183.4,700.88 183.7,702.02 184.2,701.89 184.7,700.76 185.2,701.23 185.7,702.01 186.2,702.12 186.7,701.63 187.2,701.85 187.7,702.01 188.2,701.38 188.3,701.45 188.7,701.79 189.2,702.23 189.7,702.48 190.2,702.26 190.7,702.38 191.2,702.43 191.7,702.44 192.2,701.99 192.7,701.22 193.2,701.93 193.6,702 193.7,701.67 194.2,702.15 194.7,702.16 195.2,702.11 195.7,702.78 196.2,702.18 196.7,702.08 197.2,703.69 197.7,703.48 198.2,702.81 198.7,703.1 199.2,703.75 199.7,703.21 200.2,702.72 200.7,703.1 201.2,703.32 201.7,703.43 202.2,703.46 202.7,703.28 203.2,703.08 203.7,703 204.2,702.78 204.7,702.94 205.2,703.11 205.7,702.78 206.2,703.33 206.7,703.66 207,702.72 207.2,703.09 207.7,703.25 208.2,703.01 208.7,703.2 209.2,703.07 209.7,703.09 210.2,702.78 210.7,702.69 211.2,703.48 211.4,702.73 211.7,701.98 212.2,702.62 212.7,702.06 213.2,701.27 213.7,702.09 214.2,702.19 214.5,702.04 214.7,702.18 215.2,701.16 215.7,700.77 216.2,700.57 216.7,700.41 217.2,699.97 217.7,699.26 217.8,699.1 218.2,699.19 218.7,699.02 219.2,697.89 219.7,697.05 219.8,697.4 220.2,697.03 220.7,696.33 221.2,695.75 221.6,695.41 221.7,695.65 222.2,695.05 222.7,693.92 223,693.66 223.2,692.98 223.7,691.7 224.1,689.4 224.2,679.6 224.4,632 224.7,631.78 225.2,631.42 225.7,631.06 226.2,630.7 226.6,605 226.7,605 227,605 227.2,617.5 227.4,630 227.6,660 227.7,660.02 228.2,660.14 228.7,660.25 229.2,660.36 229.7,660.48 229.8,660.5 230,685 230.2,685.11 230.7,685.39 231.2,685.67 231.7,685.94 231.8,686 232.2,688.27 232.5,690.66 232.7,690.7 233.2,691.45 233.7,692.54 234.2,693.8 234.7,694.8 235.2,695.12 235.7,696.46 236.2,697.3 236.7,696.96 237.2,697.02 237.7,697.53 238,698.5 238.2,699.07 238.7,699.01 239.2,699.03 239.7,699.24 240.2,699.11 240.7,699.86 241.2,700.58 241.7,701.19 242.2,701.07 242.7,700.48 243.2,701.24 243.6,701.4 243.7,700.7 244.2,700.56 244.7,701.12 245.2,701.62 245.7,701.64 246.2,701.94 246.7,702.37 247.2,702.24 247.7,702.02 248.2,701.92 248.7,702.17 249.2,702.63 249.7,702.56 250,702.46 250.2,702.39 250.7,701.92 251.2,701.83 251.7,702.65 252.2,703.24 252.7,703.62 253.2,703.62 253.7,703.52 254.2,704.05 254.7,704.21 255.2,703.72 255.7,703.47 256.2,703.83 256.7,703.7 257.2,703.94 257.6,704.68 257.7,704.36 258.2,704.58 258.7,704.56 259.2,703.79 259.7,703.73 260.2,703.49 260.7,703.61 261.2,703.77 261.7,704.08 262,704.22 262.2,703.83 262.7,703.49 263.2,702.8 263.7,702.76 264.2,702.87 264.7,703.12 265.2,703.31 265.3,703.52 265.7,703.04 266.2,701.88 266.7,700.82 267.2,699.72 267.7,698.95 267.8,699 268.2,697 268.7,694.9 269.2,694 269.7,691.85 270.2,688.97 270.4,688 270.7,685.83 271.2,683.46 271.7,680.97 272.2,677.71 272.3,677.68 272.7,675.94 273.2,672.02 273.7,668.51 274.2,665.93 274.7,663.71 275.2,661.64 275.7,659.49 276.2,657.82 276.7,656 277.2,657.18 277.7,658.96 278.2,660.72 278.7,662.05 279.2,663.44 279.7,665.43 279.9,666.12 280.2,667.15 280.7,669.4 281.2,672 281.7,674.62 281.8,675.3 282.2,678.39 282.7,681.05 283.2,684.31 283.7,688.51 284.2,689.97 284.7,690.86 285.2,692.62 285.7,694.11 286.2,694.72 286.7,696 286.9,696.95 287.2,698.11 287.7,699.31 288.2,699.89 288.7,699.97 289.2,700.53 289.7,701.45 290.2,702.43 290.7,702.98 291.2,703.32 291.7,704.34 292.2,704.51 292.7,704.7 293.2,704.7 293.7,704.34 294.2,704.69 294.5,705.67 294.7,706.22 295.2,705.77 295.7,705.89 296.2,706 296.7,706.16 297.2,706.48 297.7,705.92 298.2,706.08 298.7,706.04 299.2,705.56 299.7,705.4 300.2,705.85 300.7,706.36 301.2,706.31 301.7,706.26 302.2,706.81 302.7,706.87 303.2,706.24 303.7,706.84 304.2,707.59 304.7,707.36 305.2,706.32 305.7,705.99 306.2,706.7 306.7,706.87 307.2,707.13 307.7,706.66 308.2,706.34 308.7,706.55 309.2,706.72 309.7,706.86 310.2,706.73 310.7,706.52 311.2,705.71 311.7,705.53 312.2,705.75 312.7,705.74 313.2,706.28 313.6,707.01 313.7,706.64 314.2,705.53 314.7,705.05 315.2,704.81 315.7,704.96 316,705.06 316.2,704.59 316.7,703.96 317.2,702.76 317.7,702.23 318.2,702.11 318.7,702.06 319.2,702.14 319.7,701.47 320.2,701.01 320.7,701.46 321.2,700.97 321.7,699.88 322.2,699.81 322.7,699.57 323.2,699.21 323.7,699.29 323.8,699.92 324.2,699.2 324.7,698.66 325.2,699.25 325.7,699.25 326.2,699.19 326.7,699.12 327.2,699.52 327.7,699.49 328.2,699.15 328.7,699.31 329.2,699.4 329.7,699.36 330.2,699.66 330.7,700.09 331.2,700.2 331.7,700.56 332.2,700.56 332.7,700.69 333,700.9 333.2,701.43 333.7,702.03 334.2,702.14 334.7,702.94 335.2,703.94 335.7,703.81 336,704.48 336.2,705.19 336.7,704.98 337.2,705.67 337.7,706.08 338.2,705.91 338.7,706.95 339.2,707.16 339.7,706.64 340.2,707.47 340.7,707.37 341.2,707.28 341.7,707.96 342.2,708.97 342.7,708.78 343.2,708.08 343.7,708.65 344.2,708.76 344.7,708.25 345.2,708.43 345.7,708.92 346,708.98 346.2,709.3 346.7,709.49 347.2,709.26 347.7,709.05 348.2,708.57 348.7,708.44 349.2,708.86 349.7,708.78 350.2,708.75 350.7,708.62 351.2,709.08 351.7,710.03 352.2,709.43 352.7,708.87 353.2,708.93 353.7,709.21 354.2,709.43 354.7,709.06 355.2,708.85 355.4,708.87 355.7,708.61 356.2,708.77 356.7,708.85 357.2,708.79 357.7,709.04 358.2,709.2 358.7,709.14 359.2,709.1 359.7,708.8 360.2,708.65 360.7,708.86 361.2,708.71 361.7,708.79 362.2,709.01 362.7,708.33 363.2,708.12 363.7,708.27 364.2,708.53 364.7,708.37 365.2,707.65 365.7,707.73 366.2,708.55 366.7,708.66 367.2,708.16 367.7,708.38 368.2,707.76 368.7,707.72 369.2,708.4 369.7,708.34 370.2,708.32 370.7,708.16 371.2,707.76 371.7,707.65 372.2,707.65 372.7,708.28 373,708.22 373.2,707.6 373.7,707.1 374.2,706.61 374.7,707.09 375.2,706.79 375.7,705.84 376.2,705.98 376.7,705.95 377,706.49 377.2,705.73 377.7,704.86 378.2,705.48 378.7,704.66 379.2,703.87 379.7,704 380.2,704.37 380.5,703.73 380.7,702.57 381.2,702.83 381.7,703.48 382.2,702.72 382.7,701.19 383,701.56 383.2,702.15 383.7,701.92 384.2,701.84 384.7,701.78 385.2,702.07 385.7,703.08 386,703.93 386.2,703.06 386.7,703.03 387.2,705 387.7,705.9 388.2,705.62 388.5,706.17 388.7,706.66 389.2,706.87 389.7,706.99 390.2,707.16 390.7,707.41 391,707.76 391.2,707.7 391.7,707.64 392.2,707.99 392.7,708.63 393.2,708.93 393.6,708.58 393.7,708.64 394.2,708.82 394.7,709.01 395.2,709.06 395.7,709.31 396.2,709.59 396.7,709.02 397.2,708.48 397.7,708.79 398.2,709.11 398.7,708.81 399.2,708.2 399.7,707.66 400.2,708.26 400.7,709.11 401.2,709.27 401.7,708.63 402.2,708.72 402.7,708.98 403.2,708.79 403.7,709.11 404.2,708.75 404.7,708.45 405,708.05 405.2,707.95 405.7,708.03 406.2,708.47 406.7,709.06 407.2,709.21 407.7,709.3 408.2,708.81 408.7,708.81 409.2,708.89 409.7,708.97 410.2,709.19 410.7,708.69 411.2,708.59 411.7,708.92 412.2,708.82 412.7,709.09 413.2,709.73 413.7,709.33 414.2,708.67 414.7,708.07 415.2,708.14 415.7,708.72 416.2,708.07 416.7,708.3 417.2,709.18 417.7,708.85 418.2,708.55 418.7,708.47 419,708.84 419.2,708.61 419.7,708.15 420.2,709.13 420.7,709.13 421.2,708.54 421.5,708.4 421.7,707.74 422.2,707.41 422.7,707.55 423.2,706.88 423.7,706.5 424,707 424.2,707.04 424.7,705.64 425.2,704.49 425.7,703.98 426.2,704.13 426.5,704.54 426.7,704.22 427.2,703.24 427.7,702.15 428.2,701.95 428.7,701.86 429,701.26 429.2,701.18 429.7,701.44 430.2,701.24 430.7,700.48 431,699.6 431.2,699.85 431.7,700.57 432.2,700.57 432.7,700.38 433.2,700.24 433.7,700.61 434.2,700.81 434.7,700.62 435.2,700.33 435.7,700.09 436,700.45 436.2,700.44 436.7,700.27 437.2,700.77 437.7,701.83 438.2,702.27 438.5,702.53 438.7,702.62 439.2,702.56 439.7,702.66 440.2,703.07 440.5,704.27 440.7,704.76 441.2,705.04 441.7,705.66 442.2,705.92 442.7,706.13 443,706.47 443.2,706.88 443.7,707.32 444.2,707.59 444.7,707.82 445.2,707.74 445.6,707.87 445.7,707.83 446.2,708.3 446.7,707.99 447.2,707.66 447.7,709.15 448.2,709.18 448.7,708.12 449.2,708.28 449.7,709.12 450.2,709.13 450.7,708.98 451.2,709.13 451.7,708.88 452,709.88 452.2,710.03 452.7,708.85 453.2,708.67 453.7,708.97 454.2,709.25 454.7,709.38 455.2,709.29 455.7,708.59 456.2,708.71 456.7,709.07 457.2,708.81 457.7,708.44 458.2,708.35 458.7,708.59 459.2,708.76 459.7,708.53 460.2,708.55 460.7,709.06 461.2,708.68 461.7,708.44 462,708.53 462.2,709.01 462.7,708.48 463.2,708.07 463.7,708.35 464.2,708.31 464.7,709.11 465.2,709.04 465.7,708.81 466.2,708.73 466.7,709.3 467.2,709.86 467.7,709.59 468.2,708.88 468.7,708.16 469.2,708.92 469.7,709.21 470.2,708.78 470.7,708.94 471.2,708.62 471.7,708.75 472.2,709.15 472.3,709.06 472.7,708.61 473.2,708.34 473.7,708.04 474.2,707.9 474.7,708.2 475.2,707.9 475.7,707.42 476.2,707.05 476.7,705.74 477.2,705.52 477.4,706.18 477.7,705.75 478.2,705.42 478.7,704.63 479.2,704.22 479.7,704.55 480.2,704.85 480.5,704.25 480.7,703.44 481.2,703.92 481.7,703.74 482.2,703.76 482.7,703.88 483.2,702.75 483.7,702.87 483.8,703.65 484.2,702.99 484.7,703.07 485.2,703.57 485.7,703.68 486.2,703.77 486.5,702.88 486.7,703.26 487.2,704.3 487.7,705.06 488.2,705.57 488.7,705.37 488.9,704.85 489.2,704.65 489.7,704.94 490.2,705.16 490.7,705.48 491.2,705.25 491.7,705.7 492.2,706.82 492.7,707.89 493.2,708.46 493.7,707.8 494,707.93 494.2,707.75 494.7,707.54 495.2,707.5 495.7,708.31 496.2,709.25 496.7,708.58 497.2,708.53 497.7,709.37 498.2,709.7 498.7,709.68 499,709.35 499.2,709.05 499.7,709.42 500.2,709.99 500.7,709.76 501.2,709.18 501.7,709.88 502.2,710.01 502.7,710.05 503.2,710.5 503.7,710.5 504.1,711.04 504.2,710.98 504.7,710.69 505.2,710.19 505.7,709.74 506.2,710.25 506.7,710.98 507.2,711.24 507.7,711.5 508.2,711.18 508.7,710.52 509.2,710.76 509.7,710.72 510,710.39 510.2,710.05 510.7,710.39 511.2,710.39 511.7,710.24 512.2,710.13 512.7,710.32 513.2,710.45 513.7,710.38 514.2,710.2 514.7,709.8 515.2,710.69 515.7,710.58 516.2,710.23 516.7,710.34 517.2,709.58 517.7,709.84 518.2,710.72 518.7,710.27 519.2,710.32 519.7,710.43 520,709.93 520.2,710.16 520.7,710.2 521.2,710.86 521.7,710.52 522.2,709.96 522.7,710.7 523.2,709.77 523.7,708.84 524.2,709.59 524.7,709.92 525.2,709.8 525.7,710.25 526.2,709.95 526.7,709.18 527,708.39 527.2,708.76 527.7,709.25 528.2,709.2 528.7,709.49 529.2,708.87 529.7,709.26 530.2,709.96 530.7,709.6 531.2,708.79 531.7,708.31 532.2,708.43 532.7,708.34 533,708.11 533.2,708.37 533.7,708.79 534.2,708.75 534.7,708.5 535.2,708.78 535.7,708.99 536.2,707.69 536.7,707.41 537.2,708.25 537.7,708.75 538.2,708.66 538.7,708.25 539.2,708.12 539.7,708.4 540.2,708.45 540.7,708.03 541.2,707.93 541.7,708.28 542.2,708.33 542.7,707.61 543,707.96 543.2,708.31 543.7,708.33 544.2,708.77 544.7,709.14 545.2,709.46 545.7,708.99 546.2,708.7 546.7,708.58 547.2,709.26 547.7,709.91 548,709.88 548.2,709.69 548.7,708.7 549.2,709.4 549.7,710.19 550.2,709.86 550.7,709.95 551.2,710.23 551.7,710.49 552.2,709.89 552.7,710.17 553,710.58 553.2,710.09 553.7,710.82 554.2,711.28 554.7,710.64 555.2,709.77 555.7,709.94 556.2,710.72 556.7,710.66 557.2,710.11 557.7,709.9 558.2,709.91 558.7,710.24 559.2,710.92 559.7,711.19 560.2,710.71 560.7,710.48 561.2,710.9 561.7,710.68 562.2,710.47 562.7,711.33 563.2,711.45 563.7,711.08 564.2,710.89 564.7,710.63 565.2,710.24 565.7,710.24 566,711.17 566.2,711.83 566.7,711.79 567.2,711.3 567.7,710.89 568.2,710.44 568.7,710.33 569.2,710.67 569.7,710.43 570.2,710.49 570.7,710.38 571.2,709.47 571.7,709.42 572.2,709.42 572.7,709.26 573,710.12 573.2,710.47 573.7,710.1 574.2,710.45 574.7,710.71 575.2,710.1 575.7,710.05 576.2,710.25 576.7,709.75 577.2,709.7 577.7,709.16 578.2,708.7 578.7,709.04 579.2,709.41 579.5,709.28 579.7,709.03 580.2,709.42 580.7,709.87 581.2,709.77 581.7,709.69 582.2,709.28 582.7,708.75 583.2,708.94 583.7,708.91 584.2,708.61 584.7,709.2 585.2,709.26 585.7,708.39 586.2,708.57 586.7,709.43 587.2,709.27 587.7,709.04 588.2,708.84 588.7,708.25 589.2,708.14 589.4,708.23 589.7,709.07 590.2,708.8 590.7,708.79 591.2,708.9 591.7,708.35 592.2,709 592.7,709.33 593.2,709.2 593.7,708.53 594,708.59 594.2,708.84 594.7,709.66 595.2,710.04 595.7,709.41 596.2,709.23 596.7,709.14 597.2,709.22 597.7,709.8 598.2,710.32 598.7,710.38 599.2,710.44 599.7,710.3 600.2,711.12 600.7,711.16 601.2,710.37 601.7,711.01 602.2,711.41 602.6,711.3 602.7,711.96 603.2,711.89 603.7,711.92 604.2,712.01 604.7,712.25 605.2,712.94 605.7,712.36 606.2,711.92 606.7,711.85 607.2,712.02 607.7,712.7 608,712.21 608.2,712.13 608.7,712.17 609.2,711.61 609.7,711.46 610.2,712.4 610.7,712.99 611.2,712.4 611.7,712.16 612.2,712.42 612.7,711.97 613.2,711.64 613.7,713.01 614.2,712.88 614.7,712.18 615.2,712.52 615.7,712.26 616,712.05 616.2,712.56 616.7,712.49 617.2,712.18 617.7,711.88 618.2,711.74 618.7,711.74 619.2,711.98 619.7,712.07 620,711.45 620.2,710.38 620.7,710.52 621.2,711.37 621.7,710.68 622.2,709.64 622.7,709.4 623.2,710.16 623.7,710.02 624.2,709.41 624.7,709.71 625.2,710.12 625.7,709.93 626.2,709.39 626.7,709.1 627.2,709.53 627.7,709.93 628,709.31 628.2,708.51 628.7,708.24 629.2,708.83 629.7,708.8 630.2,708.86 630.7,709.16 631.2,708.92 631.7,708.97 632.2,708.99 632.5,708.49 632.7,708.23 633.2,709.26 633.7,708.99 634.2,708.1 634.7,708.84 635.2,708.95 635.7,708.36 636.2,708 636.7,708.44 637.2,709.2 637.7,709.49 638.2,709.19 638.7,709.09 639.2,708.76 639.7,708.49 640.2,708.61 640.7,708.63 641.2,709.09 641.7,709.39 642.2,708.85 642.7,708.92 643.2,709.1 643.7,708.38 644.2,708.49 644.7,708.36 645.2,708.42 645.7,708.99 646.2,709.1 646.7,709.34 647.2,709.47 647.7,709.47 648.2,709.28 648.7,709.46 649,709.74 649.2,709.66 649.7,710.08 650.2,710.47 650.7,710.15 651.2,709.78 651.7,710.39 652.2,711.22 652.3,711.47 652.7,711.67 653.2,712.05 653.7,712.01 654.2,711.67 654.7,711.27 655.2,711.05 655.7,711.32 656.2,711.79 656.7,712.09 657.2,712.09 657.7,712.05 658.2,712.34 658.7,712.53 658.9,712.46 659.2,712.49 659.7,712.22 660.2,711.8 660.7,712.13 661.2,712.59 661.7,712.36 662.2,712.1 662.7,712.89 663.2,712.78 663.7,711.99 664.2,712.32 664.7,712.02 665.2,711.97 665.7,712.91 666.2,713.17 666.7,712.8 667.2,712.69 667.7,712.52 668.2,712.64 668.7,712.56 669.2,712.12 669.7,712.2 670.2,712.62 670.7,712.69 671.2,712.62 671.7,711.87 672.2,712.04 672.7,713.3 673.2,713.23 673.7,712.26 674.2,711.44 674.7,711.51 675.2,711.35 675.5,711.42 675.7,711.5 676.2,711.43 676.7,711.88 677.2,710.77 677.7,710.28 678.2,710.55 678.7,709.86 678.8,709.85 679.2,710.17 679.7,710.61 680.2,710.11 680.7,710.03 681.2,711.08 681.7,710.85 682.2,710.3 682.7,710.02 683,709.42 683.2,709.59 683.7,710.06 684.2,710.09 684.7,710.76 685.2,710.73 685.7,710.02 686.2,710.26 686.7,709.67 687.2,708.79 687.7,709.07 688.2,709.2 688.7,709.51 689.2,709.64 689.7,709.99 690.2,710.6 690.7,710.31 691.2,709.72 691.7,709.69 692.2,710.09 692.7,709.58 693.2,709.45 693.7,710.04 694.2,710.01 694.7,710.31 695.2,710.65 695.7,709.9 696.2,709.58 696.7,709.59 697.2,709.76 697.7,709.77 698.2,709.9 698.7,710.32 699.2,710.44 699.7,710.37 700.2,709.7 700.7,710.42 701.2,710.93 701.7,710.91 702.2,711.21 702.7,711.09 703,711.6 703.2,711.54 703.7,711.53 704.2,711.07 704.7,711.03 705.2,711.55 705.7,711.36 706.2,711.56 706.7,711.84 707,712.44 707.2,711.75 707.7,711.27 708.2,711.66 708.7,712.05 709.2,712.17 709.7,711.98 710.2,712.02 710.7,712.12 711.2,712.6 711.7,712.29 712.2,712.01 712.7,711.72 713.2,711.83 713.7,712.59 714.2,712.35 714.7,712.46 715,712 715.2,711.05 715.7,711.28 716.2,711.72 716.7,712.17 717.2,712.3 717.7,712.28 718.2,712.54 718.7,712.42 719.2,711.79 719.7,711.55 720.2,712.63 720.7,712.28 721.2,711.56 721.7,712.77 722.2,712.99 722.7,712.27 723.2,712.12 723.7,712.66 724.2,713.05 724.7,712.5 725,712.36 725.2,712.72 725.7,712.81 726.2,713.16 726.7,712.69 727.2,711.77 727.7,712 728.2,713.01 728.7,713.09 729.2,712.59 729.7,713.12 730.2,712.7 730.7,712.21 731.2,712.35 731.7,712.07 732.2,712.26 732.7,712.72 733,712.38 733.2,711.73 733.7,711.5 734.2,711.81 734.7,712.16 735.2,712.12 735.7,711.91 736.2,711.64 736.7,712.3 737.2,712.34 737.7,712.2 738.2,712.4 738.7,712.08 739.2,711.4 739.4,711.82" fill="none" stroke="#000" stroke-width="2.5" stroke-linejoin="round" stroke-linecap="round"/>
<path d="M226.8 605V591.3" stroke="#444" stroke-width="1.1" fill="none"/>
<path d="M226 633V659" stroke="#8a8a8a" stroke-width="1.6" fill="none"/>
<g stroke="#9c9c9c" stroke-width="1.25" fill="none">
<line x1="113.2" y1="995.1" x2="754.9" y2="995.1"/>
<line x1="246.6" y1="995.1" x2="246.6" y2="1000.7"/>
<line x1="373.1" y1="995.1" x2="373.1" y2="1000.7"/>
<line x1="498.6" y1="995.1" x2="498.6" y2="1000.7"/>
<line x1="626.4" y1="995.1" x2="626.4" y2="1000.7"/>
<line x1="754.9" y1="995.1" x2="754.9" y2="1000.7"/>
</g>
<g stroke="#6a6a6a" stroke-width="1.25" fill="none">
<line x1="119" y1="812.7" x2="119" y2="1000.7"/>
<line x1="113.2" y1="812.7" x2="119" y2="812.7"/>
<line x1="113.2" y1="873.8" x2="119" y2="873.8"/>
<line x1="113.2" y1="933.9" x2="119" y2="933.9"/>
</g>
<text transform="translate(50.76 817.7) scale(1.1114 1)" font-size="17.5">12000</text>
<text transform="translate(61.6 879.7) scale(1.1114 1)" font-size="17.5">8000</text>
<text transform="translate(61.6 939.5) scale(1.1114 1)" font-size="17.5">4000</text>
<text transform="translate(94.03 1000.1) scale(1.1114 1)" font-size="17.5">0</text>
<text transform="translate(97.46 1025.1) scale(1.1114 1)" font-size="17.5">5000</text>
<text transform="translate(219.54 1025.1) scale(1.1114 1)" font-size="17.5">20000</text>
<text transform="translate(346.16 1025.1) scale(1.1114 1)" font-size="17.5">35000</text>
<text transform="translate(471.64 1025.1) scale(1.1114 1)" font-size="17.5">50000</text>
<text transform="translate(599.34 1025.1) scale(1.1114 1)" font-size="17.5">65000</text>
<text transform="translate(727.92 1025.1) scale(1.1114 1)" font-size="17.5">80000</text>
<text transform="translate(381.21 1046.6) scale(1.0300 1)" font-size="18.6" font-weight="bold" letter-spacing="1.24">Mass (m/z)</text>
<text transform="translate(32.6 943.37) rotate(-90) scale(1.0133 1)" font-size="18.6" font-weight="bold">Intensity</text>
<text transform="translate(-0.06 819.4) scale(1.0500 1)" font-size="20.5" font-weight="bold" letter-spacing="0.33">d)</text>
<text transform="translate(141.4 904.1) scale(1.1057 1)" font-size="17.5">9374</text>
<text transform="translate(214.69 839.4) scale(1.0731 1)" font-size="17.5">18708 <tspan dx="0.27" letter-spacing="0.35">(IL-10)</tspan></text>
<text transform="translate(249.22 941.3) scale(1.1184 1)" font-size="17.5">21433 <tspan dx="-0.46" letter-spacing="-1.01">(PEG)</tspan></text>
<text transform="translate(399.6 953.1) scale(1.1057 1)" font-size="17.5">40524</text>
<text transform="translate(564.95 973.8) scale(1.1171 1)" font-size="17.5">61326</text>
<polyline points="119.2,933.64 119.9,901.75 120.6,943.27 121.3,912.83 122,941.51 122.7,909.4 123.4,943.46 124.1,919.98 124.8,949.87 125.5,918.62 126.2,950.85 126.9,925.76 127.6,945.65 128.3,930.22 129,947.29 129.7,932.55 130.4,957.25 131.1,929.75 131.8,953.49 132.5,936.06 133.2,954.82 133.9,938.14 134.6,956.71 135.3,942.35 136,963.3 136.7,943.96 137.4,966.18 138.1,942.67 138.8,963.15 139.5,946.35 140.2,963.58 140.9,941.51 141.6,968.75 142.3,948.32 143,971.88 143.7,945.39 144.4,964.31 145.1,944.94 145.8,968.51 146.5,946.01 147.2,971.5 147.9,950.61 148.6,971.29 149.3,952.42 150,973.69 150.7,955.51 151.4,972.58 152.1,951.21 152.8,973.05 153.5,948.59 154.2,968.13 154.9,951.62 155.6,970.16 156.3,959.3 157,974.96 157.7,958.08 158.4,975.5 159.1,960.7 159.8,970.8 160.5,956.06 161.2,973.01 161.9,961.15 162.6,972.72 163.3,958.54 164,977.08 164.7,957.7 165.4,978.09 166.1,962.82 166.8,974.69 167.5,960.04 168.2,978.14 168.9,962.49 169.6,975.29 170.3,966.79 171,977.85 171.7,966.72 172.4,978.43 173.1,964.98 173.8,977.53 174.5,965.76 175.2,980.88 175.9,969.37 176.6,981.58 177.3,970.26 178,981.94 178.7,968.57 179.4,982.59 180.1,971.84 180.8,984.53 181.5,969.84 182.2,979.54 182.9,972.17 183.6,984.39 184.3,970.86 185,984.63 185.7,971.31 186.4,985.24 187.1,975.13 187.8,983.9 188.5,972.59 189.2,984.34 189.9,973.6 190.6,986.25 191.3,975.64 192,987.06 192.7,974.89 193.4,984.86 194.1,975.51 194.8,986.08 195.5,974.87 196.2,985.59 196.9,975.81 197.6,982.82 198.3,973.23 199,986.44 199.7,975.33 200.4,986.29 201.1,976.14 201.8,986.59 202.5,977.38 203.2,986.66 203.9,977.43 204.6,985.11 205.3,977.83 206,983.83 206.7,975.33 207.4,986.6 208.1,976 208.8,983.63 209.5,978.34 210.2,985.87 210.9,977.23 211.6,986.62 212.3,977.97 213,986.9 213.7,975.25 214.4,986.76 215.1,977.71 215.8,983.94 216.5,978.06 217.2,988.14 217.9,977.07 218.6,985.69 219.3,977.47 220,986.69 220.7,977.28 221.4,986.42 222.1,975.78 222.8,986.42 223.5,979.21 224.2,984.44 224.9,977.23 225.6,983.88 226.3,978.38 227,986.41 227.7,978.78 228.4,986.13 229.1,978.03 229.8,986.09 230.5,978.08 231.2,984.81 231.3,983 232,980 232.5,979 232.6,945 234.6,944.6 234.8,930 235,859 235.4,844.4 235.6,859 235.9,921 236.8,929 237.1,958 237.6,972 238,961 238.2,972.21 238.9,963.22 239.6,971.59 240.3,960.35 241,974.35 241.7,962.2 242.4,973.66 243.1,960.64 243.8,974.63 244.5,963.24 245.2,973.26 245.9,964.95 246.6,971.43 247.3,958.78 248,974.37 248.7,957.89 249.4,974.66 250.1,960.08 250.8,974.78 251.5,964.8 252.2,974.98 252.9,962.64 253.6,974.99 254.3,960.16 255,973.07 255.7,957.84 256.4,976.93 257.1,963.03 257.8,971.23 258.5,961.77 259.2,974.33 259.9,964.13 260.6,975.94 261.3,964.29 262,975.12 262.7,965.7 263.4,971.93 264.1,965.17 264.8,974.84 265.5,962.03 266.2,975.03 266.9,964.37 267.6,977.57 268.3,964.6 269,978.88 269.7,969.48 270.4,980.99 271.1,970.83 271.8,978.56 272.5,969.26 273.2,982.63 273.9,972.71 274.6,981.37 275.3,972.08 276,985.12 276.7,976.07 277.4,986.04 278.1,976.09 278.8,987.66 279.5,978.86 280.2,987.01 280.9,982.13 281.6,989.03 282.3,982.8 283,987.63 283.7,983.63 284.4,989.75 285.1,983.63 285.8,991.07 286.5,984.86 287.2,991.83 287.9,987.37 288.6,992.08 289.3,985.89 290,991.86 290.7,985.63 291.4,991.63 292.1,986.03 292.8,992.08 293.5,986.31 294.2,991.32 294.9,986.86 295.6,991.97 296.3,985.84 297,990.61 297.7,987.04 298.4,992.69 299.1,985.96 299.8,992.32 300.5,985.7 301.2,992.94 301.9,987.11 302.6,991.12 303.3,986.69 304,991.63 304.7,985.9 305.4,993.65 306.1,985.75 306.8,992.46 307.5,985.01 308.2,991.88 308.9,987.03 309.6,991.67 310.3,986.73 311,991.56 311.7,985.85 312.4,992.1 313.1,986.15 313.8,991.43 314.5,985.97 315.2,992.88 315.9,987.96 316.6,991.93 317.3,987.21 318,991.09 318.7,987.07 319.4,991.59 320.1,987.42 320.8,991.96 321.5,985.87 322.2,991.15 322.9,987.14 323.6,992.37 324.3,986.74 325,992.64 325.7,986.86 326.4,990.72 327.1,985.03 327.8,992.7 328.5,986.39 329.2,990.8 329.9,984.78 330.6,991.24 331.3,986.12 332,991.08 332.7,986.49 333.4,990.93 334.1,985.55 334.8,992.83 335.5,985.24 336.2,992.96 336.9,986.59 337.6,991.78 338.3,986.25 339,991.23 339.7,985.25 340.4,992.97 341.1,986.49 341.8,993.74 342.5,987.45 343.2,992.84 343.9,986.12 344.6,992.5 345.3,985.95 346,991.88 346.7,985.91 347.4,991.45 348.1,985.8 348.8,992.76 349.5,985.37 350.2,991.97 350.9,986.48 351.6,991.45 352.3,984.47 353,992.69 353.7,987.57 354.4,991.56 355.1,985.1 355.8,992.71 356.5,987.69 357.2,992.88 357.9,987.2 358.6,992.96 359.3,987.28 360,992.86 360.7,987.35 361.4,992.56 362.1,987.53 362.8,992.74 363.5,986.66 364.2,991.06 364.9,985.56 365.6,992.42 366.3,987.39 367,992.64 367.7,986.01 368.4,992.4 369.1,983.71 369.8,991.45 370.5,986 371.2,990.94 371.9,987.39 372.6,992.54 373.3,987.48 374,992.06 374.7,985.99 375.4,992.57 376.1,987.36 376.8,992.16 377.5,987.04 378.2,992.59 378.9,986.46 379.6,990.4 380.3,985.4 381,991.37 381.7,985.3 382.4,992.21 383.1,986.96 383.8,992.93 384.5,984.3 385.2,992.1 385.9,985.08 386.6,989.87 387.3,984.65 388,992.04 388.7,983.12 389.4,991.21 390.1,986.1 390.8,991.39 391.5,982.46 392.2,989.72 392.9,981.5 393.6,988.25 394.3,981.97 395,990.46 395.7,984.24 396.4,987.44 397.1,982.11 397.8,989.07 398.5,981.62 399.2,987.81 399.9,980.34 400.6,987.01 401.3,978.29 402,986.29 402.7,977.6 403.4,985.32 404.1,977.03 404.8,984.08 405.5,976.29 406.2,982.58 406.9,974.77 407.6,982.07 408.3,975.21 409,978.04 409.7,973.41 410.4,979.12 411.1,972.22 411.8,977 412.5,969.15 413.2,976.94 413.9,970.53 414.6,976.35 415.3,969.21 416,975.95 416.7,970.24 417.4,975.69 418.1,967.42 418.8,974.5 419.5,967.43 420.2,975.03 420.9,967.15 421.6,974.05 422.3,970.54 423,976.47 423.7,969.26 424.4,977.05 425.1,969.8 425.8,975.93 426.5,972.85 427.2,977.94 427.9,971.99 428.6,980.48 429.3,975.23 430,982.58 430.7,973.95 431.4,981.98 432.1,978.56 432.8,984.43 433.5,980.3 434.2,987.26 434.9,982.13 435.6,990.08 436.3,981.79 437,988.53 437.7,982.85 438.4,991.13 439.1,985.55 439.8,991.63 440.5,986.03 441.2,990.29 441.9,986.69 442.6,991.6 443.3,986.13 444,991.01 444.7,986.98 445.4,991.98 446.1,988.4 446.8,991.76 447.5,988.33 448.2,991.9 448.9,988.68 449.6,991.21 450.3,986.68 451,993.32 451.7,987.49 452.4,992.76 453.1,987.54 453.8,992.06 454.5,988.02 455.2,992.68 455.9,988.51 456.6,992.7 457.3,988.31 458,992.05 458.7,987.81 459.4,991.91 460.1,988.49 460.8,992.89 461.5,987.75 462.2,993.26 462.9,988.72 463.6,992.5 464.3,988.63 465,991.11 465.7,986.38 466.4,991.38 467.1,986.44 467.8,992.6 468.5,986.39 469.2,992.56 469.9,988 470.6,992.48 471.3,987.79 472,992.43 472.7,987.7 473.4,992.21 474.1,987.81 474.8,991.15 475.5,988.8 476.2,991.34 476.9,987.42 477.6,991.53 478.3,988.08 479,992.89 479.7,987.52 480.4,992.47 481.1,986.73 481.8,991.74 482.5,987.86 483.2,992.46 483.9,988.02 484.6,992.79 485.3,989.04 486,992.78 486.7,987.75 487.4,992.58 488.1,987.58 488.8,993.18 489.5,987.33 490.2,991.58 490.9,988.45 491.6,992.72 492.3,988.12 493,992.7 493.7,987.49 494.4,992.67 495.1,987.69 495.8,992.4 496.5,987.44 497.2,992.65 497.9,986.66 498.6,992.64 499.3,988.42 500,992.1 500.7,988.24 501.4,992.02 502.1,987.99 502.8,992.68 503.5,989.19 504.2,991.89 504.9,988.16 505.6,992.25 506.3,988.34 507,991.3 507.7,988.69 508.4,991.35 509.1,988.91 509.8,991.96 510.5,987.57 511.2,992.76 511.9,987.86 512.6,992.67 513.3,989.1 514,992.48 514.7,987.99 515.4,992.66 516.1,987.55 516.8,992.8 517.5,988.74 518.2,992.6 518.9,986.6 519.6,992.64 520.3,988 521,992.72 521.7,988.75 522.4,992.01 523.1,988.55 523.8,991.89 524.5,987.14 525.2,992.6 525.9,988.93 526.6,992.71 527.3,987.41 528,992.44 528.7,988.66 529.4,992.72 530.1,987.99 530.8,991.94 531.5,988 532.2,991.67 532.9,988.78 533.6,991.87 534.3,989.08 535,992.03 535.7,986.54 536.4,992.04 537.1,988.81 537.8,992.58 538.5,988.04 539.2,991.26 539.9,988.61 540.6,992.75 541.3,987.31 542,992.02 542.7,987.65 543.4,992.8 544.1,988.6 544.8,992.75 545.5,987.54 546.2,992.77 546.9,989.08 547.6,993.03 548.3,987.47 549,991.76 549.7,988.14 550.4,992.51 551.1,988.24 551.8,993.31 552.5,987.75 553.2,992.81 553.9,988.23 554.6,991.71 555.3,987.99 556,992.01 556.7,986.87 557.4,991.03 558.1,987.28 558.8,992.23 559.5,986.51 560.2,992.82 560.9,988.45 561.6,992.06 562.3,987.17 563,991.39 563.7,986.81 564.4,993.62 565.1,985.91 565.8,992.82 566.5,987.44 567.2,991.02 567.9,986.94 568.6,992.51 569.3,986.02 570,991.39 570.7,986.53 571.4,991.65 572.1,987.78 572.8,992.6 573.5,987.1 574.2,991.07 574.9,987.8 575.6,993.81 576.3,988.17 577,992.95 577.7,987.71 578.4,991.46 579.1,986.68 579.8,992.44 580.5,987.24 581.2,992.8 581.9,986.36 582.6,992.41 583.3,987.94 584,992.05 584.7,986.2 585.4,992.97 586.1,985.51 586.8,992.96 587.5,987.24 588.2,990.67 588.9,985.57 589.6,992.91 590.3,986.15 591,992.08 591.7,986.99 592.4,991.51 593.1,986.46 593.8,993.75 594.5,986.85 595.2,991.79 595.9,986.58 596.6,992.3 597.3,986.35 598,992.96 598.7,988.03 599.4,993 600.1,986.72 600.8,992.56 601.5,986.26 602.2,990.82 602.9,987.98 603.6,992.67 604.3,987.31 605,992.32 605.7,986.24 606.4,993.72 607.1,986.61 607.8,992.01 608.5,987.64 609.2,992.31 609.9,987.05 610.6,992.3 611.3,987.39 612,992.09 612.7,987.24 613.4,992.29 614.1,986.01 614.8,992.96 615.5,986.95 616.2,992.19 616.9,987.18 617.6,992.7 618.3,988.54 619,991.29 619.7,987.09 620.4,991.13 621.1,987.94 621.8,993.63 622.5,987.2 623.2,992.53 623.9,987.24 624.6,991.84 625.3,988.91 626,993.14 626.7,987.44 627.4,992.65 628.1,988.02 628.8,992.62 629.5,987.69 630.2,992.05 630.9,986.86 631.6,993.05 632.3,987.88 633,992.25 633.7,989.55 634.4,992.61 635.1,989.43 635.8,992.89 636.5,988 637.2,993.59 637.9,988.39 638.6,992.98 639.3,988.23 640,992.16 640.7,989.83 641.4,992.72 642.1,988.52 642.8,993.73 643.5,988.8 644.2,993.33 644.9,989.65 645.6,993.26 646.3,987.39 647,991.92 647.7,988.41 648.4,993.17 649.1,988.89 649.8,992.69 650.5,988.47 651.2,992.87 651.9,988.67 652.6,993.48 653.3,989.02 654,993.47 654.7,988.69 655.4,992.95 656.1,989.92 656.8,992.36 657.5,989.31 658.2,993.17 658.9,990.05 659.6,992.22 660.3,989.36 661,992.36 661.7,990.1 662.4,992.84 663.1,989.63 663.8,993.13 664.5,987.85 665.2,992.51 665.9,988.49 666.6,993.58 667.3,988.91 668,993.61 668.7,988.45 669.4,993.5 670.1,989.26 670.8,992.7 671.5,989.46 672.2,993.43 672.9,989.11 673.6,994.05 674.3,989.37 675,993.69 675.7,989.04 676.4,993.57 677.1,988.85 677.8,993.67 678.5,988.6 679.2,992.65 679.9,990.19 680.6,993.56 681.3,989.68 682,993.73 682.7,989.84 683.4,993.56 684.1,990.39 684.8,993.2 685.5,989.84 686.2,993.75 686.9,989.33 687.6,993.53 688.3,990.54 689,992.6 689.7,988.75 690.4,993.81 691.1,990.17 691.8,993.73 692.5,990.57 693.2,993.67 693.9,990.4 694.6,993.78 695.3,989.64 696,993.83 696.7,990.66 697.4,993.83 698.1,990.26 698.8,993.85 699.5,989.82 700.2,992.72 700.9,989.48 701.6,993.57 702.3,989.57 703,992.96 703.7,989.81 704.4,992.94 705.1,990.22 705.8,993.08 706.5,990.02 707.2,993.1 707.9,989.71 708.6,993.92 709.3,989.59 710,994.06 710.7,990.21 711.4,993.42 712.1,989.64 712.8,993.94 713.5,989.88 714.2,993.78 714.9,990.83 715.6,993.79 716.3,989.96 717,993.95 717.7,989.67 718.4,993.96 719.1,990.59 719.8,993.81 720.5,990.86 721.2,992.73 721.9,989.56 722.6,992.79 723.3,990.69 724,992.98 724.7,990.51 725.4,993.87 726.1,990.01 726.8,993.99 727.5,991.02 728.2,992.76 728.9,990.53 729.6,993.1 730.3,989.75 731,994 731.7,990.39 732.4,993.98 733.1,990.97 733.8,994.02 734.5,990.53 735.2,993.93 735.9,990.64 736.6,992.73 737.3,989.05 738,993.34 738.7,989.36 739.4,994.26 740.1,990.18 740.8,993.66 741.5,990.84 742.2,993.99 742.9,990.6 743.6,993.95 744.3,989.98 745,993.76 745.7,989.83 746.4,992.96 747.1,990.11 747.8,994.04 748.5,990.81 749.2,992.91 749.9,991.2 750.6,994.02 751.3,989.55 752,993.1 752.7,990.17 753.4,993.37 754.1,989.97" fill="none" stroke="#000" stroke-width="1.15" stroke-linejoin="round" stroke-linecap="round"/>
<g stroke="#000" fill="none" stroke-linecap="butt">
<path d="M155.7 913.4V968" stroke-width="3.5"/>
<path d="M235.2 859V921" stroke-width="2.3"/>
<path d="M236.1 919.5V929.5" stroke-width="3.8"/>
<path d="M232.6 944.6V980" stroke-width="2.0"/>
<path d="M237.1 929V958" stroke-width="1.7"/>
<path d="M234.8 929.5V945" stroke-width="1.4" stroke="#6a6a6a"/>
</g>
</g></svg>
</body></html>
